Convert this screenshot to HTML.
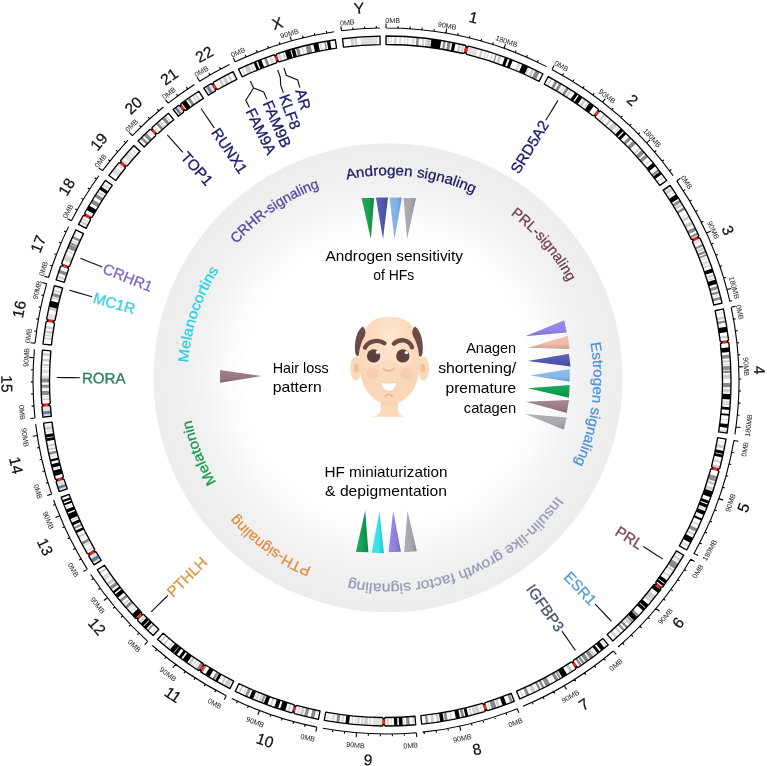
<!DOCTYPE html>
<html lang="en"><head><meta charset="utf-8"><title>Circos: hair loss pathways</title>
<style>html,body{margin:0;padding:0;background:#fff}svg{display:block;will-change:transform}</style></head><body>
<svg width="767" height="766" viewBox="0 0 767 766">
<rect width="767" height="766" fill="#fff"/>
<defs><radialGradient id="dg" cx="388.0" cy="377.7" r="234.5" gradientUnits="userSpaceOnUse"><stop offset="0" stop-color="#fff"/><stop offset="0.6" stop-color="#fff"/><stop offset="0.68" stop-color="#fbfbfb"/><stop offset="0.78" stop-color="#f4f4f4"/><stop offset="0.88" stop-color="#efefef"/><stop offset="1" stop-color="#ededed"/></radialGradient></defs>
<circle cx="388.0" cy="377.7" r="234.5" fill="url(#dg)"/>
<g id="ideograms">
<clipPath id="idclip"><path d="M386 36A345 345 0 0 1 465.28 45.23L466.69 47.21L468.85 46.1A345 345 0 0 1 542.92 73.75L539.05 81.32A336.5 336.5 0 0 0 466.81 54.35L465.44 52.37L463.32 53.5A336.5 336.5 0 0 0 386 44.5ZM548.26 76.54A345 345 0 0 1 598.21 108.99L598.46 111.21L600.68 110.93A345 345 0 0 1 666.7 180.43L659.79 185.37A336.5 336.5 0 0 0 595.39 117.58L595.18 115.37L592.98 115.69A336.5 336.5 0 0 0 544.26 84.04ZM670.16 185.36A345 345 0 0 1 698.83 235.52L698.03 237.61L700.14 238.37A345 345 0 0 1 722.08 303.07L713.8 304.99A336.5 336.5 0 0 0 692.4 241.88L693.21 239.82L691.12 239.1A336.5 336.5 0 0 0 663.16 190.18ZM723.39 308.94A345 345 0 0 1 728.54 339.91L727.14 341.65L728.9 343.03A345 345 0 0 1 727.04 433.14L718.63 431.86A336.5 336.5 0 0 0 720.46 343.96L721.87 342.26L720.11 340.93A336.5 336.5 0 0 0 715.08 310.72ZM726.07 439.09A345 345 0 0 1 719.73 468.47L717.78 469.57L718.92 471.5A345 345 0 0 1 686.78 549.99L679.37 545.82A336.5 336.5 0 0 0 710.72 469.27L712.66 468.2L711.51 466.31A336.5 336.5 0 0 0 717.7 437.66ZM683.78 555.21A345 345 0 0 1 662.65 587.13L660.43 587.42L660.76 589.64A345 345 0 0 1 612.79 640.98L607.2 634.58A336.5 336.5 0 0 0 654 584.5L656.2 584.24L655.83 582.05A336.5 336.5 0 0 0 676.45 550.92ZM608.22 644.9A345 345 0 0 1 578.24 667.48L576.05 667.02L575.63 669.21A345 345 0 0 1 519.86 698.97L516.56 691.14A336.5 336.5 0 0 0 570.95 662.11L573.12 662.6L573.5 660.42A336.5 336.5 0 0 0 602.74 638.4ZM514.29 701.26A345 345 0 0 1 487.68 710.68L485.71 709.6L484.68 711.59A345 345 0 0 1 421.7 724.15L420.82 715.69A336.5 336.5 0 0 0 482.25 703.44L484.17 704.53L485.17 702.55A336.5 336.5 0 0 0 511.13 693.37ZM415.7 724.72A345 345 0 0 1 385.29 726L383.74 724.39L382.17 725.98A345 345 0 0 1 324.26 720.43L325.78 712.07A336.5 336.5 0 0 0 382.27 717.48L383.78 719.09L385.3 717.5A336.5 336.5 0 0 0 414.97 716.25ZM318.39 719.31A345 345 0 0 1 294.56 713.66L293.49 711.71L291.56 712.82A345 345 0 0 1 235.26 691.32L238.97 683.68A336.5 336.5 0 0 0 293.89 704.65L294.92 706.6L296.82 705.47A336.5 336.5 0 0 0 320.05 710.97ZM229.89 688.66A345 345 0 0 1 200.98 672.19L200.53 670L198.35 670.5A345 345 0 0 1 157.54 639.52L163.17 633.15A336.5 336.5 0 0 0 202.97 663.37L203.39 665.54L205.53 665.01A336.5 336.5 0 0 0 233.74 681.08ZM153.09 635.51A345 345 0 0 1 137.62 620.44L137.7 618.22L135.48 618.2A345 345 0 0 1 97.27 569.84L104.38 565.19A336.5 336.5 0 0 0 141.65 612.36L141.53 614.55L143.74 614.54A336.5 336.5 0 0 0 158.83 629.24ZM94.06 564.84A345 345 0 0 1 88.86 556.31L89.45 554.15L87.27 553.59A345 345 0 0 1 61.17 497.25L69.18 494.38A336.5 336.5 0 0 0 94.63 549.34L94.02 551.47L96.18 551.99A336.5 336.5 0 0 0 101.25 560.31ZM59.19 491.55A345 345 0 0 1 56.14 482.07L57.21 480.1L55.23 479.06A345 345 0 0 1 43.58 423.12L52.02 422.08A336.5 336.5 0 0 0 63.38 476.64L62.28 478.57L64.26 479.58A336.5 336.5 0 0 0 67.24 488.82ZM42.9 417.12A345 345 0 0 1 41.96 406.78L43.45 405.1L41.74 403.64A345 345 0 0 1 42.39 350.07L50.86 350.83A336.5 336.5 0 0 0 50.23 403.08L48.73 404.73L50.44 406.14A336.5 336.5 0 0 0 51.35 416.23ZM42.98 344.06A345 345 0 0 1 46.11 321.86L47.96 320.58L46.67 318.73A345 345 0 0 1 54.43 285.67L62.6 288.02A336.5 336.5 0 0 0 55.03 320.27L53.17 321.51L54.48 323.32A336.5 336.5 0 0 0 51.43 344.97ZM56.17 279.82A345 345 0 0 1 60.64 266.25L62.68 265.29L61.71 263.26A345 345 0 0 1 75.86 229.88L83.5 233.61A336.5 336.5 0 0 0 69.7 266.16L67.67 267.08L68.66 269.08A336.5 336.5 0 0 0 64.3 282.32ZM78.58 224.43A345 345 0 0 1 83.14 215.76L85.31 215.14L84.68 212.98A345 345 0 0 1 105.34 180.37L112.25 185.31A336.5 336.5 0 0 0 92.1 217.12L89.95 217.7L90.61 219.83A336.5 336.5 0 0 0 86.15 228.28ZM108.92 175.45A345 345 0 0 1 118.69 162.9L120.93 162.69L120.7 160.45A345 345 0 0 1 133.88 145.5L140.09 151.3A336.5 336.5 0 0 0 127.24 165.88L125.02 166.06L125.27 168.27A336.5 336.5 0 0 0 115.74 180.51ZM138.07 141.09A345 345 0 0 1 149.8 129.54L152.03 129.64L152.09 127.4A345 345 0 0 1 168.45 113.24L173.81 119.84A336.5 336.5 0 0 0 157.86 133.65L155.64 133.52L155.62 135.73A336.5 336.5 0 0 0 144.18 147ZM173.15 109.48A345 345 0 0 1 178.44 105.42L180.65 105.76L180.95 103.55A345 345 0 0 1 198.74 91.24L203.36 98.38A336.5 336.5 0 0 0 186 110.38L183.82 110.01L183.55 112.21A336.5 336.5 0 0 0 178.4 116.17ZM203.83 88.02A345 345 0 0 1 210.9 83.74L213.06 84.33L213.61 82.16A345 345 0 0 1 233.12 71.72L236.88 79.34A336.5 336.5 0 0 0 217.86 89.52L215.73 88.91L215.21 91.06A336.5 336.5 0 0 0 208.32 95.24ZM238.54 69.1A345 345 0 0 1 273.72 54.78L275.72 55.79L276.69 53.77A345 345 0 0 1 335.32 39.74L336.57 48.15A336.5 336.5 0 0 0 279.38 61.84L277.42 60.81L276.49 62.82A336.5 336.5 0 0 0 242.17 76.79ZM342.48 38.76A345 345 0 0 1 379.98 36.05L380.13 44.55A336.5 336.5 0 0 0 343.55 47.19Z"/></clipPath>
<path d="M386 36A345 345 0 0 1 465.28 45.23L466.69 47.21L468.85 46.1A345 345 0 0 1 542.92 73.75L539.05 81.32A336.5 336.5 0 0 0 466.81 54.35L465.44 52.37L463.32 53.5A336.5 336.5 0 0 0 386 44.5ZM548.26 76.54A345 345 0 0 1 598.21 108.99L598.46 111.21L600.68 110.93A345 345 0 0 1 666.7 180.43L659.79 185.37A336.5 336.5 0 0 0 595.39 117.58L595.18 115.37L592.98 115.69A336.5 336.5 0 0 0 544.26 84.04ZM670.16 185.36A345 345 0 0 1 698.83 235.52L698.03 237.61L700.14 238.37A345 345 0 0 1 722.08 303.07L713.8 304.99A336.5 336.5 0 0 0 692.4 241.88L693.21 239.82L691.12 239.1A336.5 336.5 0 0 0 663.16 190.18ZM723.39 308.94A345 345 0 0 1 728.54 339.91L727.14 341.65L728.9 343.03A345 345 0 0 1 727.04 433.14L718.63 431.86A336.5 336.5 0 0 0 720.46 343.96L721.87 342.26L720.11 340.93A336.5 336.5 0 0 0 715.08 310.72ZM726.07 439.09A345 345 0 0 1 719.73 468.47L717.78 469.57L718.92 471.5A345 345 0 0 1 686.78 549.99L679.37 545.82A336.5 336.5 0 0 0 710.72 469.27L712.66 468.2L711.51 466.31A336.5 336.5 0 0 0 717.7 437.66ZM683.78 555.21A345 345 0 0 1 662.65 587.13L660.43 587.42L660.76 589.64A345 345 0 0 1 612.79 640.98L607.2 634.58A336.5 336.5 0 0 0 654 584.5L656.2 584.24L655.83 582.05A336.5 336.5 0 0 0 676.45 550.92ZM608.22 644.9A345 345 0 0 1 578.24 667.48L576.05 667.02L575.63 669.21A345 345 0 0 1 519.86 698.97L516.56 691.14A336.5 336.5 0 0 0 570.95 662.11L573.12 662.6L573.5 660.42A336.5 336.5 0 0 0 602.74 638.4ZM514.29 701.26A345 345 0 0 1 487.68 710.68L485.71 709.6L484.68 711.59A345 345 0 0 1 421.7 724.15L420.82 715.69A336.5 336.5 0 0 0 482.25 703.44L484.17 704.53L485.17 702.55A336.5 336.5 0 0 0 511.13 693.37ZM415.7 724.72A345 345 0 0 1 385.29 726L383.74 724.39L382.17 725.98A345 345 0 0 1 324.26 720.43L325.78 712.07A336.5 336.5 0 0 0 382.27 717.48L383.78 719.09L385.3 717.5A336.5 336.5 0 0 0 414.97 716.25ZM318.39 719.31A345 345 0 0 1 294.56 713.66L293.49 711.71L291.56 712.82A345 345 0 0 1 235.26 691.32L238.97 683.68A336.5 336.5 0 0 0 293.89 704.65L294.92 706.6L296.82 705.47A336.5 336.5 0 0 0 320.05 710.97ZM229.89 688.66A345 345 0 0 1 200.98 672.19L200.53 670L198.35 670.5A345 345 0 0 1 157.54 639.52L163.17 633.15A336.5 336.5 0 0 0 202.97 663.37L203.39 665.54L205.53 665.01A336.5 336.5 0 0 0 233.74 681.08ZM153.09 635.51A345 345 0 0 1 137.62 620.44L137.7 618.22L135.48 618.2A345 345 0 0 1 97.27 569.84L104.38 565.19A336.5 336.5 0 0 0 141.65 612.36L141.53 614.55L143.74 614.54A336.5 336.5 0 0 0 158.83 629.24ZM94.06 564.84A345 345 0 0 1 88.86 556.31L89.45 554.15L87.27 553.59A345 345 0 0 1 61.17 497.25L69.18 494.38A336.5 336.5 0 0 0 94.63 549.34L94.02 551.47L96.18 551.99A336.5 336.5 0 0 0 101.25 560.31ZM59.19 491.55A345 345 0 0 1 56.14 482.07L57.21 480.1L55.23 479.06A345 345 0 0 1 43.58 423.12L52.02 422.08A336.5 336.5 0 0 0 63.38 476.64L62.28 478.57L64.26 479.58A336.5 336.5 0 0 0 67.24 488.82ZM42.9 417.12A345 345 0 0 1 41.96 406.78L43.45 405.1L41.74 403.64A345 345 0 0 1 42.39 350.07L50.86 350.83A336.5 336.5 0 0 0 50.23 403.08L48.73 404.73L50.44 406.14A336.5 336.5 0 0 0 51.35 416.23ZM42.98 344.06A345 345 0 0 1 46.11 321.86L47.96 320.58L46.67 318.73A345 345 0 0 1 54.43 285.67L62.6 288.02A336.5 336.5 0 0 0 55.03 320.27L53.17 321.51L54.48 323.32A336.5 336.5 0 0 0 51.43 344.97ZM56.17 279.82A345 345 0 0 1 60.64 266.25L62.68 265.29L61.71 263.26A345 345 0 0 1 75.86 229.88L83.5 233.61A336.5 336.5 0 0 0 69.7 266.16L67.67 267.08L68.66 269.08A336.5 336.5 0 0 0 64.3 282.32ZM78.58 224.43A345 345 0 0 1 83.14 215.76L85.31 215.14L84.68 212.98A345 345 0 0 1 105.34 180.37L112.25 185.31A336.5 336.5 0 0 0 92.1 217.12L89.95 217.7L90.61 219.83A336.5 336.5 0 0 0 86.15 228.28ZM108.92 175.45A345 345 0 0 1 118.69 162.9L120.93 162.69L120.7 160.45A345 345 0 0 1 133.88 145.5L140.09 151.3A336.5 336.5 0 0 0 127.24 165.88L125.02 166.06L125.27 168.27A336.5 336.5 0 0 0 115.74 180.51ZM138.07 141.09A345 345 0 0 1 149.8 129.54L152.03 129.64L152.09 127.4A345 345 0 0 1 168.45 113.24L173.81 119.84A336.5 336.5 0 0 0 157.86 133.65L155.64 133.52L155.62 135.73A336.5 336.5 0 0 0 144.18 147ZM173.15 109.48A345 345 0 0 1 178.44 105.42L180.65 105.76L180.95 103.55A345 345 0 0 1 198.74 91.24L203.36 98.38A336.5 336.5 0 0 0 186 110.38L183.82 110.01L183.55 112.21A336.5 336.5 0 0 0 178.4 116.17ZM203.83 88.02A345 345 0 0 1 210.9 83.74L213.06 84.33L213.61 82.16A345 345 0 0 1 233.12 71.72L236.88 79.34A336.5 336.5 0 0 0 217.86 89.52L215.73 88.91L215.21 91.06A336.5 336.5 0 0 0 208.32 95.24ZM238.54 69.1A345 345 0 0 1 273.72 54.78L275.72 55.79L276.69 53.77A345 345 0 0 1 335.32 39.74L336.57 48.15A336.5 336.5 0 0 0 279.38 61.84L277.42 60.81L276.49 62.82A336.5 336.5 0 0 0 242.17 76.79ZM342.48 38.76A345 345 0 0 1 379.98 36.05L380.13 44.55A336.5 336.5 0 0 0 343.55 47.19Z" fill="#fff"/>
<g clip-path="url(#idclip)">
<path d="M387.5 36A345 345 0 0 1 389.53 36.02L389.44 44.52A336.5 336.5 0 0 0 387.47 44.5ZM390.71 36.03A345 345 0 0 1 392.01 36.05L391.86 44.55A336.5 336.5 0 0 0 390.59 44.53ZM399.33 36.26A345 345 0 0 1 401.62 36.35L401.23 44.84A336.5 336.5 0 0 0 399 44.75ZM404.29 36.49A345 345 0 0 1 405.73 36.56L405.24 45.05A336.5 336.5 0 0 0 403.84 44.97ZM407.16 36.65A345 345 0 0 1 408.6 36.74L408.04 45.22A336.5 336.5 0 0 0 406.64 45.13ZM412.18 37A345 345 0 0 1 414.79 37.2L414.08 45.67A336.5 336.5 0 0 0 411.54 45.47ZM517.97 62.24A345 345 0 0 1 520.56 63.33L517.25 71.15A336.5 336.5 0 0 0 514.72 70.09ZM528.41 66.76A345 345 0 0 1 529.83 67.41L526.29 75.14A336.5 336.5 0 0 0 524.9 74.5ZM564.12 85.54A345 345 0 0 1 565.29 86.25L560.87 93.51A336.5 336.5 0 0 0 559.73 92.82ZM606.48 115.65A345 345 0 0 1 607.84 116.78L602.37 123.29A336.5 336.5 0 0 0 601.05 122.18ZM618.8 126.38A345 345 0 0 1 620.05 127.53L614.28 133.78A336.5 336.5 0 0 0 613.06 132.66ZM627.06 134.19A345 345 0 0 1 627.34 134.47L621.4 140.54A336.5 336.5 0 0 0 621.12 140.27ZM674.46 191.76A345 345 0 0 1 675 192.58L667.88 197.22A336.5 336.5 0 0 0 667.36 196.42ZM687.58 213.45A345 345 0 0 1 688.12 214.42L680.68 218.53A336.5 336.5 0 0 0 680.15 217.58ZM701.92 242.37A345 345 0 0 1 702.16 242.91L694.37 246.31A336.5 336.5 0 0 0 694.14 245.78ZM707.85 256.75A345 345 0 0 1 708.32 257.97L700.38 261A336.5 336.5 0 0 0 699.92 259.81ZM709.1 260.05A345 345 0 0 1 710.12 262.81L702.14 265.72A336.5 336.5 0 0 0 701.14 263.03ZM710.57 264.04A345 345 0 0 1 711.23 265.88L703.21 268.72A336.5 336.5 0 0 0 702.57 266.92ZM719.98 294.5A345 345 0 0 1 720.22 295.45L711.99 297.56A336.5 336.5 0 0 0 711.75 296.63ZM723.99 311.82A345 345 0 0 1 724.19 312.78L715.86 314.46A336.5 336.5 0 0 0 715.67 313.53ZM730.55 363.38A345 345 0 0 1 730.64 365.21L722.15 365.6A336.5 336.5 0 0 0 722.06 363.82ZM730.43 400.88A345 345 0 0 1 730.21 404.34L721.73 403.76A336.5 336.5 0 0 0 721.94 400.39ZM728.84 419.51A345 345 0 0 1 728.71 420.67L720.27 419.7A336.5 336.5 0 0 0 720.4 418.56ZM728.37 423.53A345 345 0 0 1 728.27 424.31L719.84 423.24A336.5 336.5 0 0 0 719.93 422.48ZM727.43 430.53A345 345 0 0 1 727.04 433.14L718.63 431.86A336.5 336.5 0 0 0 719.01 429.3ZM725.57 441.98A345 345 0 0 1 725.36 443.14L717 441.61A336.5 336.5 0 0 0 717.2 440.48ZM721.66 460.73A345 345 0 0 1 720.95 463.65L712.7 461.61A336.5 336.5 0 0 0 713.39 458.76ZM699.99 523.94A345 345 0 0 1 699.09 525.9L691.38 522.33A336.5 336.5 0 0 0 692.26 520.42ZM689.34 545.35A345 345 0 0 1 688.15 547.53L680.7 543.43A336.5 336.5 0 0 0 681.86 541.3ZM683.02 556.51A345 345 0 0 1 682.39 557.58L675.09 553.22A336.5 336.5 0 0 0 675.7 552.18ZM679.88 561.71A345 345 0 0 1 679.27 562.71L672.04 558.24A336.5 336.5 0 0 0 672.64 557.26ZM672.65 572.99A345 345 0 0 1 672.14 573.75L665.09 569A336.5 336.5 0 0 0 665.58 568.26ZM671 575.42A345 345 0 0 1 669.55 577.52L662.57 572.68A336.5 336.5 0 0 0 663.98 570.63ZM606.82 646.08A345 345 0 0 1 605.96 646.79L600.54 640.24A336.5 336.5 0 0 0 601.38 639.54ZM537.65 690.88A345 345 0 0 1 536.94 691.23L533.22 683.59A336.5 336.5 0 0 0 533.91 683.25ZM523.76 697.3A345 345 0 0 1 522.26 697.95L518.91 690.14A336.5 336.5 0 0 0 520.37 689.51ZM490.73 709.72A345 345 0 0 1 489.86 709.99L487.3 701.89A336.5 336.5 0 0 0 488.15 701.62ZM452.33 719.56A345 345 0 0 1 450.66 719.89L449.06 711.54A336.5 336.5 0 0 0 450.69 711.22ZM414.27 724.84A345 345 0 0 1 412.71 724.96L412.05 716.49A336.5 336.5 0 0 0 413.57 716.37ZM404.88 725.48A345 345 0 0 1 403.64 725.55L403.21 717.06A336.5 336.5 0 0 0 404.41 717ZM392.01 725.95A345 345 0 0 1 390.64 725.97L390.53 717.47A336.5 336.5 0 0 0 391.87 717.45ZM370.96 725.67A345 345 0 0 1 368.69 725.57L369.11 717.08A336.5 336.5 0 0 0 371.33 717.18ZM356 724.69A345 345 0 0 1 354.65 724.57L355.42 716.11A336.5 336.5 0 0 0 356.74 716.23ZM352.9 724.41A345 345 0 0 1 351.16 724.24L352.02 715.78A336.5 336.5 0 0 0 353.72 715.95ZM343.43 723.36A345 345 0 0 1 341.11 723.07L342.22 714.64A336.5 336.5 0 0 0 344.47 714.93ZM334.11 722.08A345 345 0 0 1 331.22 721.62L332.57 713.23A336.5 336.5 0 0 0 335.39 713.67ZM329.18 721.29A345 345 0 0 1 328.86 721.23L330.26 712.85A336.5 336.5 0 0 0 330.58 712.9ZM327.64 721.03A345 345 0 0 1 326.68 720.86L328.14 712.49A336.5 336.5 0 0 0 329.08 712.65ZM316.48 718.92A345 345 0 0 1 315.97 718.82L317.7 710.49A336.5 336.5 0 0 0 318.19 710.6ZM298.6 714.75A345 345 0 0 1 296.66 714.23L298.86 706.02A336.5 336.5 0 0 0 300.76 706.52ZM289.35 712.19A345 345 0 0 1 286.99 711.49L289.43 703.34A336.5 336.5 0 0 0 291.73 704.03ZM254.52 699.96A345 345 0 0 1 253.38 699.49L256.65 691.64A336.5 336.5 0 0 0 257.76 692.1ZM195.28 668.49A345 345 0 0 1 194.36 667.88L199.08 660.81A336.5 336.5 0 0 0 199.98 661.41ZM193.01 666.97A345 345 0 0 1 191.67 666.06L196.46 659.04A336.5 336.5 0 0 0 197.77 659.93ZM151.51 634.06A345 345 0 0 1 150.51 633.13L156.31 626.92A336.5 336.5 0 0 0 157.29 627.83ZM130.68 613.02A345 345 0 0 1 129.64 611.87L135.95 606.19A336.5 336.5 0 0 0 136.97 607.31ZM128.18 610.24A345 345 0 0 1 127.45 609.42L133.82 603.79A336.5 336.5 0 0 0 134.53 604.59ZM105.33 581.63A345 345 0 0 1 105.11 581.31L112.03 576.38A336.5 336.5 0 0 0 112.25 576.69ZM86.3 551.89A345 345 0 0 1 85.58 550.63L92.99 546.45A336.5 336.5 0 0 0 93.68 547.68ZM84.85 549.32A345 345 0 0 1 84.5 548.69L91.92 544.56A336.5 336.5 0 0 0 92.27 545.17ZM79.45 539.28A345 345 0 0 1 79.27 538.93L86.83 535.04A336.5 336.5 0 0 0 87 535.38ZM65.1 507.67A345 345 0 0 1 64.83 507L72.75 503.9A336.5 336.5 0 0 0 73 504.55ZM49.58 457.44A345 345 0 0 1 49.37 456.55L57.67 454.69A336.5 336.5 0 0 0 57.86 455.56ZM44.96 433.12A345 345 0 0 1 44.69 431.3L53.1 430.06A336.5 336.5 0 0 0 53.36 431.83ZM41.1 389.14A345 345 0 0 1 41.08 388.62L49.58 388.43A336.5 336.5 0 0 0 49.59 388.94ZM41.01 378.33A345 345 0 0 1 41.04 375.45L49.54 375.59A336.5 336.5 0 0 0 49.51 378.4ZM41.09 373.16A345 345 0 0 1 41.09 373.09L49.59 373.29A336.5 336.5 0 0 0 49.59 373.35ZM41.09 372.96A345 345 0 0 1 41.19 369.56L49.69 369.84A336.5 336.5 0 0 0 49.59 373.16ZM41.25 367.92A345 345 0 0 1 41.28 367L49.78 367.35A336.5 336.5 0 0 0 49.74 368.24ZM53.85 287.74A345 345 0 0 1 54.13 286.72L62.31 289.04A336.5 336.5 0 0 0 62.03 290.03ZM64.51 255.82A345 345 0 0 1 65.11 254.28L73.02 257.41A336.5 336.5 0 0 0 72.43 258.91ZM66.1 251.83A345 345 0 0 1 66.72 250.29L74.58 253.51A336.5 336.5 0 0 0 73.98 255.01ZM74.03 233.7A345 345 0 0 1 74.17 233.4L81.85 237.04A336.5 336.5 0 0 0 81.71 237.33ZM81.17 219.43A345 345 0 0 1 81.92 218.03L89.41 222.05A336.5 336.5 0 0 0 88.68 223.42ZM101.77 185.45A345 345 0 0 1 103.43 183.06L110.39 187.94A336.5 336.5 0 0 0 108.78 190.26ZM111.66 171.81A345 345 0 0 1 114.48 168.15L121.17 173.4A336.5 336.5 0 0 0 118.42 176.96ZM114.52 168.1A345 345 0 0 1 115.46 166.91L122.13 172.18A336.5 336.5 0 0 0 121.21 173.35ZM123.51 157.12A345 345 0 0 1 124.71 155.71L131.15 161.27A336.5 336.5 0 0 0 129.98 162.63ZM124.88 155.52A345 345 0 0 1 126.92 153.18L133.31 158.79A336.5 336.5 0 0 0 131.32 161.07ZM127.71 152.29A345 345 0 0 1 128.94 150.9L135.27 156.57A336.5 336.5 0 0 0 134.07 157.92ZM130.44 149.24A345 345 0 0 1 131.42 148.16L137.69 153.9A336.5 336.5 0 0 0 136.74 154.95ZM132.62 146.85A345 345 0 0 1 133.88 145.5L140.09 151.3A336.5 336.5 0 0 0 138.87 152.62ZM147.99 131.24A345 345 0 0 1 148.47 130.79L154.32 136.96A336.5 336.5 0 0 0 153.86 137.4ZM153.15 126.43A345 345 0 0 1 154.26 125.42L159.97 131.71A336.5 336.5 0 0 0 158.89 132.7ZM158.02 122.06A345 345 0 0 1 160.13 120.21L165.7 126.64A336.5 336.5 0 0 0 163.63 128.44ZM216.31 80.62A345 345 0 0 1 217.05 80.2L221.21 87.61A336.5 336.5 0 0 0 220.49 88.02ZM268.57 56.6A345 345 0 0 1 271.65 55.5L274.47 63.52A336.5 336.5 0 0 0 271.47 64.59ZM319.28 42.51A345 345 0 0 1 321.34 42.11L322.93 50.46A336.5 336.5 0 0 0 320.93 50.85Z" fill="#dcdcdc"/>
<path d="M469.41 46.24A345 345 0 0 1 478.07 48.51L475.8 56.7A336.5 336.5 0 0 0 467.36 54.48ZM700.3 238.73A345 345 0 0 1 701.47 241.35L693.7 244.79A336.5 336.5 0 0 0 692.55 242.23ZM382.63 725.98A345 345 0 0 1 372.77 725.75L373.1 717.25A336.5 336.5 0 0 0 382.71 717.48ZM94.06 564.84A345 345 0 0 1 92.53 562.38L99.76 557.91A336.5 336.5 0 0 0 101.25 560.31ZM90.68 559.35A345 345 0 0 1 88.59 555.86L95.92 551.55A336.5 336.5 0 0 0 97.95 554.96ZM59.19 491.55A345 345 0 0 1 58.42 489.25L66.49 486.58A336.5 336.5 0 0 0 67.24 488.82ZM57.53 486.51A345 345 0 0 1 55.96 481.5L64.09 479.03A336.5 336.5 0 0 0 65.62 483.91ZM42.9 417.12A345 345 0 0 1 42.64 414.58L51.1 413.75A336.5 336.5 0 0 0 51.35 416.23ZM42.35 411.45A345 345 0 0 1 41.97 406.81L50.44 406.18A336.5 336.5 0 0 0 50.81 410.7ZM46.62 318.99A345 345 0 0 1 47.66 313.53L56 315.2A336.5 336.5 0 0 0 54.98 320.52ZM116.98 165A345 345 0 0 1 118.81 162.74L125.4 168.12A336.5 336.5 0 0 0 123.61 170.32ZM120.58 160.6A345 345 0 0 1 122.18 158.68L128.68 164.16A336.5 336.5 0 0 0 127.11 166.03ZM173.15 109.48A345 345 0 0 1 174.59 108.36L179.8 115.08A336.5 336.5 0 0 0 178.4 116.17ZM176.67 106.77A345 345 0 0 1 178.8 105.15L183.91 111.94A336.5 336.5 0 0 0 181.82 113.52ZM203.83 88.02A345 345 0 0 1 205.94 86.71L210.38 93.97A336.5 336.5 0 0 0 208.32 95.24ZM208.46 85.19A345 345 0 0 1 210.65 83.89L214.97 91.21A336.5 336.5 0 0 0 212.83 92.48ZM360.31 36.96A345 345 0 0 1 377.51 36.1L377.72 44.6A336.5 336.5 0 0 0 360.94 45.43Z" fill="#e0e0e0"/>
<path d="M394.3 36.1A345 345 0 0 1 396.59 36.16L396.33 44.66A336.5 336.5 0 0 0 394.1 44.6ZM422.6 37.95A345 345 0 0 1 424.48 38.15L423.53 46.6A336.5 336.5 0 0 0 421.7 46.4ZM425.98 38.32A345 345 0 0 1 430.9 38.93L429.8 47.36A336.5 336.5 0 0 0 424.99 46.77ZM458.53 43.71A345 345 0 0 1 461.27 44.31L459.42 52.61A336.5 336.5 0 0 0 456.74 52.02ZM462.36 44.56A345 345 0 0 1 464.14 44.97L462.21 53.24A336.5 336.5 0 0 0 460.47 52.84ZM480.84 49.29A345 345 0 0 1 482.91 49.89L480.52 58.05A336.5 336.5 0 0 0 478.5 57.46ZM485.86 50.77A345 345 0 0 1 486.79 51.05L484.31 59.18A336.5 336.5 0 0 0 483.4 58.9ZM488.42 51.55A345 345 0 0 1 489.29 51.83L486.75 59.94A336.5 336.5 0 0 0 485.9 59.67ZM492.41 52.82A345 345 0 0 1 493.46 53.16L490.81 61.24A336.5 336.5 0 0 0 489.78 60.9ZM498.91 55A345 345 0 0 1 501.56 55.93L498.72 63.94A336.5 336.5 0 0 0 496.13 63.03ZM532.03 68.43A345 345 0 0 1 534.39 69.54L530.74 77.22A336.5 336.5 0 0 0 528.43 76.13ZM550.79 77.9A345 345 0 0 1 552.34 78.75L548.24 86.19A336.5 336.5 0 0 0 546.73 85.37ZM570.07 89.21A345 345 0 0 1 571.83 90.33L567.26 97.49A336.5 336.5 0 0 0 565.53 96.4ZM583.95 98.44A345 345 0 0 1 586.35 100.13L581.41 107.05A336.5 336.5 0 0 0 579.07 105.4ZM587.89 101.24A345 345 0 0 1 588.95 102.01L583.95 108.88A336.5 336.5 0 0 0 582.91 108.13ZM604.06 113.65A345 345 0 0 1 605.73 115.02L600.31 121.57A336.5 336.5 0 0 0 598.69 120.24ZM609.93 118.55A345 345 0 0 1 612.11 120.43L606.54 126.85A336.5 336.5 0 0 0 604.42 125.02ZM613.88 121.98A345 345 0 0 1 617.54 125.24L611.84 131.54A336.5 336.5 0 0 0 608.27 128.36ZM639.85 147.37A345 345 0 0 1 641 148.62L634.72 154.35A336.5 336.5 0 0 0 633.6 153.13ZM650.76 159.8A345 345 0 0 1 651.43 160.6L644.89 166.03A336.5 336.5 0 0 0 644.23 165.25ZM663.79 176.41A345 345 0 0 1 664.45 177.3L657.59 182.32A336.5 336.5 0 0 0 656.94 181.45ZM670.16 185.36A345 345 0 0 1 671.2 186.87L664.17 191.65A336.5 336.5 0 0 0 663.16 190.18ZM671.64 187.51A345 345 0 0 1 673.35 190.07L666.27 194.77A336.5 336.5 0 0 0 664.6 192.28ZM681.53 202.99A345 345 0 0 1 683 205.46L675.68 209.78A336.5 336.5 0 0 0 674.25 207.37ZM685.5 209.75A345 345 0 0 1 685.53 209.81L678.15 214.03A336.5 336.5 0 0 0 678.12 213.97ZM688.78 215.63A345 345 0 0 1 690.09 218.04L682.6 222.06A336.5 336.5 0 0 0 681.32 219.7ZM691.65 220.99A345 345 0 0 1 693.48 224.53L685.9 228.39A336.5 336.5 0 0 0 684.12 224.93ZM703.96 247.11A345 345 0 0 1 704.82 249.16L696.96 252.41A336.5 336.5 0 0 0 696.13 250.41ZM714.04 274.17A345 345 0 0 1 714.63 275.98L706.53 278.57A336.5 336.5 0 0 0 705.96 276.81ZM715.02 277.22A345 345 0 0 1 715.41 278.47L707.3 281A336.5 336.5 0 0 0 706.92 279.78ZM724.86 316.18A345 345 0 0 1 725.33 318.69L716.97 320.22A336.5 336.5 0 0 0 716.51 317.78ZM727.98 335.47A345 345 0 0 1 728.27 337.67L719.84 338.74A336.5 336.5 0 0 0 719.56 336.59ZM730.36 359.99A345 345 0 0 1 730.49 362.28L722 362.74A336.5 336.5 0 0 0 721.88 360.51ZM730.94 374.49A345 345 0 0 1 730.99 378.8L722.49 378.86A336.5 336.5 0 0 0 722.44 374.65ZM730.9 389.32A345 345 0 0 1 730.81 392.59L722.31 392.3A336.5 336.5 0 0 0 722.4 389.12ZM730.21 404.34A345 345 0 0 1 730.13 405.45L721.65 404.85A336.5 336.5 0 0 0 721.73 403.76ZM724.94 445.39A345 345 0 0 1 724.29 448.73L715.95 447.06A336.5 336.5 0 0 0 716.59 443.8ZM720.3 466.25A345 345 0 0 1 719.71 468.53L711.49 466.37A336.5 336.5 0 0 0 712.06 464.15ZM715.72 482.54A345 345 0 0 1 714.76 485.6L706.66 483.02A336.5 336.5 0 0 0 707.59 480.04ZM714.04 487.84A345 345 0 0 1 713.12 490.63L705.06 487.93A336.5 336.5 0 0 0 705.96 485.21ZM706.34 509.1A345 345 0 0 1 705.95 510.07L698.06 506.89A336.5 336.5 0 0 0 698.44 505.94ZM695.37 533.69A345 345 0 0 1 694.5 535.44L686.9 531.64A336.5 336.5 0 0 0 687.75 529.92ZM681.41 559.2A345 345 0 0 1 680.23 561.16L672.98 556.72A336.5 336.5 0 0 0 674.14 554.81ZM674.49 570.21A345 345 0 0 1 673.26 572.06L666.19 567.36A336.5 336.5 0 0 0 667.38 565.55ZM655.75 596.08A345 345 0 0 1 652.46 600.15L645.89 594.75A336.5 336.5 0 0 0 649.1 590.79ZM652.04 600.65A345 345 0 0 1 650.75 602.21L644.22 596.76A336.5 336.5 0 0 0 645.49 595.24ZM631.78 623.11A345 345 0 0 1 629.94 624.97L623.93 618.96A336.5 336.5 0 0 0 625.72 617.15ZM621.81 632.83A345 345 0 0 1 620.37 634.17L614.6 627.93A336.5 336.5 0 0 0 616 626.63ZM617.72 636.6A345 345 0 0 1 616.02 638.13L610.36 631.79A336.5 336.5 0 0 0 612.01 630.3ZM595.22 655.32A345 345 0 0 1 593.91 656.31L588.79 649.53A336.5 336.5 0 0 0 590.06 648.56ZM573.03 670.91A345 345 0 0 1 570.16 672.74L565.62 665.55A336.5 336.5 0 0 0 568.42 663.77ZM552.38 683.23A345 345 0 0 1 551.97 683.45L547.89 676A336.5 336.5 0 0 0 548.28 675.79ZM535.65 691.86A345 345 0 0 1 532.34 693.43L528.73 685.73A336.5 336.5 0 0 0 531.96 684.2ZM500.03 706.61A345 345 0 0 1 497.5 707.49L494.75 699.44A336.5 336.5 0 0 0 497.22 698.59ZM479.97 712.96A345 345 0 0 1 476.13 714.02L473.91 705.81A336.5 336.5 0 0 0 477.65 704.78ZM475.75 714.12A345 345 0 0 1 473.35 714.76L471.2 706.54A336.5 336.5 0 0 0 473.54 705.91ZM472.08 715.09A345 345 0 0 1 470.5 715.49L468.42 707.25A336.5 336.5 0 0 0 469.96 706.86ZM439.32 721.85A345 345 0 0 1 437.19 722.18L435.93 713.78A336.5 336.5 0 0 0 438.01 713.46ZM434.09 722.63A345 345 0 0 1 431.37 723L430.25 714.58A336.5 336.5 0 0 0 432.9 714.22ZM388.94 725.99A345 345 0 0 1 387.24 726L387.21 717.5A336.5 336.5 0 0 0 388.87 717.49ZM367.52 725.5A345 345 0 0 1 364.15 725.31L364.69 716.82A336.5 336.5 0 0 0 367.98 717.02ZM362.92 725.23A345 345 0 0 1 360.98 725.09L361.6 716.61A336.5 336.5 0 0 0 363.49 716.75ZM359.17 724.96A345 345 0 0 1 356.91 724.77L357.63 716.3A336.5 336.5 0 0 0 359.83 716.48ZM302.82 715.82A345 345 0 0 1 299.67 715.02L301.8 706.79A336.5 336.5 0 0 0 304.86 707.57ZM271.57 706.47A345 345 0 0 1 269.86 705.86L272.72 697.86A336.5 336.5 0 0 0 274.39 698.45ZM259.88 702.12A345 345 0 0 1 258.13 701.43L261.28 693.53A336.5 336.5 0 0 0 262.99 694.21ZM256.74 700.87A345 345 0 0 1 255.18 700.23L258.4 692.37A336.5 336.5 0 0 0 259.93 692.99ZM243.37 695.14A345 345 0 0 1 242.54 694.76L246.08 687.03A336.5 336.5 0 0 0 246.88 687.4ZM239.95 693.56A345 345 0 0 1 238.13 692.7L241.77 685.02A336.5 336.5 0 0 0 243.55 685.86ZM228.27 687.84A345 345 0 0 1 223.73 685.45L227.73 677.95A336.5 336.5 0 0 0 232.16 680.28ZM222.58 684.84A345 345 0 0 1 220.58 683.76L224.66 676.3A336.5 336.5 0 0 0 226.61 677.36ZM190.6 665.33A345 345 0 0 1 188.04 663.55L192.91 656.59A336.5 336.5 0 0 0 195.41 658.32ZM168.69 648.96A345 345 0 0 1 167.69 648.14L173.06 641.56A336.5 336.5 0 0 0 174.05 642.36ZM164.33 645.36A345 345 0 0 1 162.99 644.23L168.49 637.75A336.5 336.5 0 0 0 169.79 638.85ZM161.06 642.59A345 345 0 0 1 159.59 641.31L165.17 634.9A336.5 336.5 0 0 0 166.61 636.14ZM140.11 623A345 345 0 0 1 138.81 621.67L144.9 615.74A336.5 336.5 0 0 0 146.17 617.04ZM123.85 605.28A345 345 0 0 1 122.76 604.01L129.25 598.51A336.5 336.5 0 0 0 130.31 599.76ZM108.33 585.75A345 345 0 0 1 106.35 583.04L113.24 578.06A336.5 336.5 0 0 0 115.17 580.71ZM104.36 580.26A345 345 0 0 1 103.43 578.94L110.4 574.07A336.5 336.5 0 0 0 111.3 575.35ZM102.95 578.26A345 345 0 0 1 102 576.88L109 572.05A336.5 336.5 0 0 0 109.93 573.4ZM100.11 574.11A345 345 0 0 1 98.89 572.29L105.96 567.57A336.5 336.5 0 0 0 107.15 569.35ZM83.45 546.8A345 345 0 0 1 82.89 545.76L90.35 541.7A336.5 336.5 0 0 0 90.9 542.71ZM78.82 538.05A345 345 0 0 1 77.75 535.95L85.35 532.13A336.5 336.5 0 0 0 86.39 534.18ZM70.88 521.44A345 345 0 0 1 70.4 520.37L78.18 516.93A336.5 336.5 0 0 0 78.64 517.98ZM52.52 469.4A345 345 0 0 1 52.3 468.58L60.52 466.42A336.5 336.5 0 0 0 60.74 467.23ZM48.09 450.59A345 345 0 0 1 47.69 448.6L56.02 446.94A336.5 336.5 0 0 0 56.42 448.88ZM47.4 447.12A345 345 0 0 1 46.95 444.81L55.31 443.23A336.5 336.5 0 0 0 55.74 445.49ZM44.54 430.26A345 345 0 0 1 44.07 426.95L52.5 425.82A336.5 336.5 0 0 0 52.95 429.05ZM43.92 425.79A345 345 0 0 1 43.85 425.27L52.28 424.17A336.5 336.5 0 0 0 52.35 424.68ZM41.54 400.34A345 345 0 0 1 41.46 398.77L49.95 398.33A336.5 336.5 0 0 0 50.03 399.86ZM41.39 397.33A345 345 0 0 1 41.36 396.74L49.85 396.35A336.5 336.5 0 0 0 49.88 396.93ZM41.33 365.89A345 345 0 0 1 41.44 363.66L49.93 364.09A336.5 336.5 0 0 0 49.82 366.26ZM41.56 361.37A345 345 0 0 1 41.71 358.82L50.2 359.37A336.5 336.5 0 0 0 50.04 361.86ZM41.95 355.43A345 345 0 0 1 42.16 352.68L50.64 353.38A336.5 336.5 0 0 0 50.43 356.06ZM43.58 338.92A345 345 0 0 1 43.79 337.23L52.22 338.31A336.5 336.5 0 0 0 52.01 339.96ZM43.96 335.87A345 345 0 0 1 44.16 334.44L52.58 335.58A336.5 336.5 0 0 0 52.39 336.98ZM44.34 333.14A345 345 0 0 1 44.75 330.29L53.16 331.54A336.5 336.5 0 0 0 52.75 334.32ZM45.04 328.34A345 345 0 0 1 45.44 325.82L53.83 327.18A336.5 336.5 0 0 0 53.44 329.64ZM48.4 309.9A345 345 0 0 1 48.97 307.25L57.28 309.07A336.5 336.5 0 0 0 56.72 311.66ZM51.09 298.16A345 345 0 0 1 51.43 296.82L59.67 298.89A336.5 336.5 0 0 0 59.34 300.21ZM52.9 291.18A345 345 0 0 1 53.33 289.58L61.53 291.84A336.5 336.5 0 0 0 61.1 293.39ZM56.82 277.74A345 345 0 0 1 57.46 275.72L65.55 278.31A336.5 336.5 0 0 0 64.93 280.28ZM62.95 259.9A345 345 0 0 1 64.44 256.01L72.36 259.09A336.5 336.5 0 0 0 70.91 262.89ZM70.66 241.04A345 345 0 0 1 71.1 240.07L78.85 243.55A336.5 336.5 0 0 0 78.43 244.49ZM79.45 222.72A345 345 0 0 1 80.74 220.25L88.26 224.21A336.5 336.5 0 0 0 87 226.62ZM97.18 192.3A345 345 0 0 1 98.19 190.76L105.29 195.44A336.5 336.5 0 0 0 104.3 196.95ZM165.16 115.94A345 345 0 0 1 166.12 115.15L171.54 121.7A336.5 336.5 0 0 0 170.61 122.47ZM192.04 95.68A345 345 0 0 1 193.12 94.95L197.88 102A336.5 336.5 0 0 0 196.82 102.71ZM194.15 94.26A345 345 0 0 1 195.73 93.21L200.42 100.3A336.5 336.5 0 0 0 198.88 101.32ZM218.42 79.44A345 345 0 0 1 220.53 78.27L224.61 85.73A336.5 336.5 0 0 0 222.55 86.87ZM222.03 77.46A345 345 0 0 1 225.14 75.8L229.1 83.32A336.5 336.5 0 0 0 226.07 84.94ZM227.11 74.77A345 345 0 0 1 228.97 73.81L232.84 81.38A336.5 336.5 0 0 0 231.03 82.31ZM231.42 72.57A345 345 0 0 1 232 72.28L235.8 79.88A336.5 336.5 0 0 0 235.23 80.17ZM241.08 67.91A345 345 0 0 1 242.09 67.45L245.64 75.17A336.5 336.5 0 0 0 244.65 75.63ZM244.17 66.5A345 345 0 0 1 248.72 64.49L252.1 72.29A336.5 336.5 0 0 0 247.67 74.25ZM250.04 63.92A345 345 0 0 1 251.6 63.26L254.91 71.08A336.5 336.5 0 0 0 253.39 71.73ZM277.72 53.43A345 345 0 0 1 279.7 52.78L282.32 60.87A336.5 336.5 0 0 0 280.38 61.5ZM282.19 51.99A345 345 0 0 1 283.5 51.58L286.03 59.69A336.5 336.5 0 0 0 284.75 60.09ZM301.56 46.49A345 345 0 0 1 302.25 46.32L304.32 54.56A336.5 336.5 0 0 0 303.64 54.74ZM350.34 37.85A345 345 0 0 1 353.18 37.57L353.98 46.03A336.5 336.5 0 0 0 351.22 46.3ZM354.18 37.47A345 345 0 0 1 356.77 37.24L357.49 45.71A336.5 336.5 0 0 0 354.97 45.93Z" fill="#cdcdcd"/>
<path d="M416.55 37.36A345 345 0 0 1 419.09 37.59L418.27 46.05A336.5 336.5 0 0 0 415.8 45.82ZM443.51 40.83A345 345 0 0 1 445.83 41.23L444.35 49.6A336.5 336.5 0 0 0 442.09 49.21ZM447.56 41.54A345 345 0 0 1 450.78 42.14L449.18 50.48A336.5 336.5 0 0 0 446.05 49.9ZM495.76 53.92A345 345 0 0 1 497 54.34L494.26 62.39A336.5 336.5 0 0 0 493.05 61.98ZM535.51 70.08A345 345 0 0 1 539.68 72.12L535.89 79.73A336.5 336.5 0 0 0 531.83 77.74ZM555.25 80.37A345 345 0 0 1 557.81 81.82L553.58 89.19A336.5 336.5 0 0 0 551.08 87.78ZM559.22 82.64A345 345 0 0 1 561.93 84.23L557.59 91.54A336.5 336.5 0 0 0 554.96 89.99ZM566.46 86.96A345 345 0 0 1 568.96 88.51L564.45 95.72A336.5 336.5 0 0 0 562.02 94.21ZM629.39 136.49A345 345 0 0 1 631.65 138.76L625.6 144.73A336.5 336.5 0 0 0 623.39 142.51ZM633.43 140.58A345 345 0 0 1 636.15 143.41L629.99 149.26A336.5 336.5 0 0 0 627.34 146.5ZM642.06 149.79A345 345 0 0 1 644.84 152.91L638.46 158.53A336.5 336.5 0 0 0 635.75 155.48ZM645.92 154.14A345 345 0 0 1 648.27 156.86L641.81 162.38A336.5 336.5 0 0 0 639.51 159.72ZM658.22 169.06A345 345 0 0 1 659.7 170.97L652.96 176.15A336.5 336.5 0 0 0 651.52 174.28ZM679.59 199.81A345 345 0 0 1 681.12 202.32L673.85 206.72A336.5 336.5 0 0 0 672.35 204.27ZM683.96 207.09A345 345 0 0 1 685.37 209.52L677.99 213.75A336.5 336.5 0 0 0 676.62 211.38ZM694.77 227.1A345 345 0 0 1 696.39 230.38L688.74 234.09A336.5 336.5 0 0 0 687.16 230.89ZM697.43 232.56A345 345 0 0 1 698.47 234.75L690.77 238.35A336.5 336.5 0 0 0 689.76 236.22ZM702.65 244.05A345 345 0 0 1 703.53 246.09L695.7 249.41A336.5 336.5 0 0 0 694.85 247.42ZM705.36 250.49A345 345 0 0 1 706.29 252.79L698.4 255.95A336.5 336.5 0 0 0 697.49 253.71ZM706.71 253.83A345 345 0 0 1 707.4 255.59L699.48 258.68A336.5 336.5 0 0 0 698.8 256.96ZM717.64 285.92A345 345 0 0 1 718.49 288.94L710.3 291.21A336.5 336.5 0 0 0 709.47 288.27ZM719.06 291.02A345 345 0 0 1 719.68 293.36L711.46 295.52A336.5 336.5 0 0 0 710.85 293.24ZM720.53 296.65A345 345 0 0 1 721.22 299.44L712.96 301.45A336.5 336.5 0 0 0 712.29 298.73ZM725.63 320.36A345 345 0 0 1 726.02 322.61L717.65 324.05A336.5 336.5 0 0 0 717.26 321.85ZM729.98 354.51A345 345 0 0 1 730.25 358.3L721.77 358.85A336.5 336.5 0 0 0 721.51 355.17ZM730.67 365.93A345 345 0 0 1 730.81 369.65L722.32 369.93A336.5 336.5 0 0 0 722.18 366.3ZM730.84 370.57A345 345 0 0 1 730.91 372.99L722.41 373.18A336.5 336.5 0 0 0 722.35 370.83ZM730.99 382.98A345 345 0 0 1 730.94 387.36L722.44 387.21A336.5 336.5 0 0 0 722.49 382.94ZM717.49 476.59A345 345 0 0 1 716.76 479.1L708.61 476.69A336.5 336.5 0 0 0 709.32 474.24ZM716.7 479.29A345 345 0 0 1 716.04 481.48L707.91 479.01A336.5 336.5 0 0 0 708.55 476.87ZM697.71 528.86A345 345 0 0 1 696.21 531.98L688.57 528.26A336.5 336.5 0 0 0 690.03 525.22ZM678.64 563.71A345 345 0 0 1 675.13 569.22L668.01 564.59A336.5 336.5 0 0 0 671.43 559.21ZM639.27 615.27A345 345 0 0 1 637.62 617.04L631.42 611.22A336.5 336.5 0 0 0 633.03 609.49ZM633.65 621.2A345 345 0 0 1 632.19 622.69L626.12 616.74A336.5 336.5 0 0 0 627.55 615.28ZM628.17 626.72A345 345 0 0 1 626.4 628.46L620.47 622.36A336.5 336.5 0 0 0 622.21 620.66ZM625.08 629.73A345 345 0 0 1 623.47 631.26L617.62 625.1A336.5 336.5 0 0 0 619.19 623.6ZM593.5 656.63A345 345 0 0 1 590.25 659.04L585.21 652.19A336.5 336.5 0 0 0 588.39 649.84ZM589.09 659.89A345 345 0 0 1 585.85 662.22L580.92 655.29A336.5 336.5 0 0 0 584.08 653.02ZM584.73 663.01A345 345 0 0 1 582.8 664.36L577.95 657.38A336.5 336.5 0 0 0 579.83 656.07ZM581.99 664.92A345 345 0 0 1 580.11 666.21L575.33 659.19A336.5 336.5 0 0 0 577.17 657.93ZM561.23 678.18A345 345 0 0 1 559.6 679.14L555.32 671.8A336.5 336.5 0 0 0 556.92 670.86ZM558.64 679.7A345 345 0 0 1 555.69 681.39L551.51 673.98A336.5 336.5 0 0 0 554.38 672.34ZM550.31 684.36A345 345 0 0 1 546.16 686.57L542.21 679.04A336.5 336.5 0 0 0 546.26 676.89ZM544.53 687.42A345 345 0 0 1 542.38 688.52L538.53 680.94A336.5 336.5 0 0 0 540.63 679.87ZM540.81 689.32A345 345 0 0 1 538.88 690.28L535.11 682.66A336.5 336.5 0 0 0 536.99 681.72ZM529.43 694.77A345 345 0 0 1 526.57 696.06L523.11 688.3A336.5 336.5 0 0 0 525.9 687.04ZM512.95 701.79A345 345 0 0 1 510.52 702.75L507.45 694.82A336.5 336.5 0 0 0 509.83 693.89ZM496.63 707.78A345 345 0 0 1 491.85 709.36L489.25 701.27A336.5 336.5 0 0 0 493.91 699.73ZM482.04 712.36A345 345 0 0 1 481.79 712.43L479.43 704.27A336.5 336.5 0 0 0 479.68 704.2ZM464.4 716.97A345 345 0 0 1 461.54 717.63L459.67 709.34A336.5 336.5 0 0 0 462.47 708.7ZM447.7 720.44A345 345 0 0 1 444.93 720.93L443.48 712.55A336.5 336.5 0 0 0 446.18 712.07ZM428.19 723.41A345 345 0 0 1 425.92 723.68L424.94 715.24A336.5 336.5 0 0 0 427.15 714.97ZM409.84 725.18A345 345 0 0 1 406.45 725.39L405.94 716.91A336.5 336.5 0 0 0 409.25 716.7ZM339.31 722.83A345 345 0 0 1 336.23 722.39L337.45 713.98A336.5 336.5 0 0 0 340.46 714.4ZM314.19 718.44A345 345 0 0 1 310.64 717.67L312.5 709.37A336.5 336.5 0 0 0 315.96 710.13ZM307.42 716.93A345 345 0 0 1 306.6 716.74L308.55 708.47A336.5 336.5 0 0 0 309.35 708.65ZM306.53 716.72A345 345 0 0 1 304.07 716.13L306.09 707.87A336.5 336.5 0 0 0 308.49 708.45ZM262.67 703.2A345 345 0 0 1 260.61 702.41L263.7 694.49A336.5 336.5 0 0 0 265.71 695.26ZM247.4 696.94A345 345 0 0 1 244.91 695.83L248.39 688.07A336.5 336.5 0 0 0 250.82 689.15ZM214.35 680.27A345 345 0 0 1 212.21 679.03L216.49 671.69A336.5 336.5 0 0 0 218.58 672.89ZM202.32 673.04A345 345 0 0 1 200.78 672.07L205.35 664.9A336.5 336.5 0 0 0 206.85 665.84ZM198.54 670.63A345 345 0 0 1 196.26 669.14L200.93 662.04A336.5 336.5 0 0 0 203.16 663.49ZM148.29 631.04A345 345 0 0 1 147.02 629.83L152.91 623.7A336.5 336.5 0 0 0 154.15 624.88ZM126.81 608.69A345 345 0 0 1 124.69 606.26L131.13 600.71A336.5 336.5 0 0 0 133.19 603.08ZM121.19 602.13A345 345 0 0 1 119.46 600.05L126.03 594.65A336.5 336.5 0 0 0 127.71 596.68ZM111.26 589.67A345 345 0 0 1 109.17 586.89L115.99 581.82A336.5 336.5 0 0 0 118.03 584.53ZM82.42 544.9A345 345 0 0 1 81 542.24L88.51 538.27A336.5 336.5 0 0 0 89.9 540.86ZM74.47 529.24A345 345 0 0 1 73.52 527.23L81.22 523.62A336.5 336.5 0 0 0 82.15 525.59ZM49 454.89A345 345 0 0 1 48.45 452.32L56.77 450.57A336.5 336.5 0 0 0 57.31 453.07ZM41.29 395.17A345 345 0 0 1 41.14 390.91L49.64 390.67A336.5 336.5 0 0 0 49.78 394.82ZM41.07 387.83A345 345 0 0 1 41.02 384.76L49.52 384.66A336.5 336.5 0 0 0 49.57 387.67ZM41 382.53A345 345 0 0 1 41.01 378.47L49.51 378.53A336.5 336.5 0 0 0 49.5 382.49ZM51.62 296.05A345 345 0 0 1 52.47 292.78L60.69 294.95A336.5 336.5 0 0 0 59.86 298.14ZM58.32 273.08A345 345 0 0 1 59.43 269.75L67.48 272.49A336.5 336.5 0 0 0 66.39 275.73ZM67.42 248.58A345 345 0 0 1 69.34 244.07L77.14 247.45A336.5 336.5 0 0 0 75.27 251.84ZM69.52 243.65A345 345 0 0 1 70.26 241.95L78.04 245.38A336.5 336.5 0 0 0 77.32 247.03ZM71.88 238.33A345 345 0 0 1 72.93 236.04L80.65 239.61A336.5 336.5 0 0 0 79.62 241.84ZM90.51 202.92A345 345 0 0 1 92.68 199.37L99.91 203.85A336.5 336.5 0 0 0 97.79 207.31ZM94.32 196.74A345 345 0 0 1 96.32 193.63L103.45 198.24A336.5 336.5 0 0 0 101.51 201.28ZM140.43 138.68A345 345 0 0 1 142.33 136.77L148.33 142.78A336.5 336.5 0 0 0 146.48 144.65ZM143.68 135.43A345 345 0 0 1 146.39 132.78L152.29 138.9A336.5 336.5 0 0 0 149.65 141.48ZM155.82 124.02A345 345 0 0 1 157.82 122.24L163.44 128.61A336.5 336.5 0 0 0 161.49 130.35ZM161.82 118.76A345 345 0 0 1 164.41 116.57L169.87 123.08A336.5 336.5 0 0 0 167.34 125.23ZM187.21 99.03A345 345 0 0 1 189.72 97.27L194.56 104.26A336.5 336.5 0 0 0 192.1 105.98ZM264.04 58.28A345 345 0 0 1 266.49 57.36L269.43 65.34A336.5 336.5 0 0 0 267.04 66.23ZM295.8 48A345 345 0 0 1 298.83 47.19L300.98 55.42A336.5 336.5 0 0 0 298.02 56.2ZM305.43 45.54A345 345 0 0 1 310.39 44.39L312.26 52.68A336.5 336.5 0 0 0 307.41 53.81ZM324.16 41.59A345 345 0 0 1 325.64 41.32L327.13 49.69A336.5 336.5 0 0 0 325.69 49.95Z" fill="#8a8a8a"/>
<path d="M92.53 562.38A345 345 0 0 1 90.68 559.35L97.95 554.96A336.5 336.5 0 0 0 99.76 557.91ZM58.42 489.25A345 345 0 0 1 57.53 486.51L65.62 483.91A336.5 336.5 0 0 0 66.49 486.58ZM42.64 414.58A345 345 0 0 1 42.35 411.45L50.81 410.7A336.5 336.5 0 0 0 51.1 413.75ZM174.59 108.36A345 345 0 0 1 176.67 106.77L181.82 113.52A336.5 336.5 0 0 0 179.8 115.08ZM205.94 86.71A345 345 0 0 1 208.46 85.19L212.83 92.48A336.5 336.5 0 0 0 210.38 93.97Z" fill="#647fa4"/>
<path d="M431.42 39A345 345 0 0 1 441.25 40.45L439.89 48.84A336.5 336.5 0 0 0 430.3 47.43ZM452.38 42.45A345 345 0 0 1 455.58 43.09L453.87 51.42A336.5 336.5 0 0 0 450.74 50.79ZM504.94 57.15A345 345 0 0 1 508.01 58.29L505 66.24A336.5 336.5 0 0 0 502.01 65.13ZM509.84 58.99A345 345 0 0 1 512.82 60.16L509.7 68.06A336.5 336.5 0 0 0 506.79 66.93ZM522.37 64.1A345 345 0 0 1 528.11 66.63L524.61 74.37A336.5 336.5 0 0 0 519.01 71.9ZM575.13 92.46A345 345 0 0 1 577.91 94.3L573.18 101.36A336.5 336.5 0 0 0 570.47 99.57ZM579.04 95.07A345 345 0 0 1 582.44 97.39L577.6 104.38A336.5 336.5 0 0 0 574.29 102.11ZM589.74 102.58A345 345 0 0 1 594.09 105.82L588.96 112.6A336.5 336.5 0 0 0 584.72 109.44ZM620.86 128.29A345 345 0 0 1 623.44 130.7L617.59 136.87A336.5 336.5 0 0 0 615.08 134.51ZM624.34 131.56A345 345 0 0 1 626.5 133.65L620.58 139.74A336.5 336.5 0 0 0 618.47 137.71ZM653.13 162.67A345 345 0 0 1 655.72 165.88L649.07 171.18A336.5 336.5 0 0 0 646.55 168.05ZM660.06 171.44A345 345 0 0 1 661.99 173.99L655.19 179.09A336.5 336.5 0 0 0 653.31 176.6ZM676.1 194.28A345 345 0 0 1 678.73 198.42L671.51 202.92A336.5 336.5 0 0 0 668.96 198.88ZM712.11 268.41A345 345 0 0 1 713.39 272.19L705.32 274.87A336.5 336.5 0 0 0 704.08 271.19ZM715.74 279.53A345 345 0 0 1 717.04 283.85L708.88 286.25A336.5 336.5 0 0 0 707.62 282.03ZM726.71 326.74A345 345 0 0 1 727.5 331.98L719.09 333.18A336.5 336.5 0 0 0 718.31 328.08ZM729.36 347.35A345 345 0 0 1 729.78 351.97L721.31 352.69A336.5 336.5 0 0 0 720.9 348.18ZM730.75 394.09A345 345 0 0 1 730.5 399.58L722.01 399.12A336.5 336.5 0 0 0 722.26 393.77ZM730.01 407.14A345 345 0 0 1 729.77 410.07L721.3 409.36A336.5 336.5 0 0 0 721.53 406.5ZM729.41 414.11A345 345 0 0 1 729.23 415.87L720.78 415.01A336.5 336.5 0 0 0 720.95 413.29ZM728.27 424.31A345 345 0 0 1 727.78 428L719.36 426.84A336.5 336.5 0 0 0 719.84 423.24ZM723.84 450.9A345 345 0 0 1 723.18 454.04L714.87 452.24A336.5 336.5 0 0 0 715.52 449.18ZM723 454.87A345 345 0 0 1 722.39 457.61L714.1 455.72A336.5 336.5 0 0 0 714.7 453.05ZM712.83 491.5A345 345 0 0 1 710.78 497.36L702.78 494.5A336.5 336.5 0 0 0 704.77 488.78ZM709.46 500.99A345 345 0 0 1 708.4 503.8L700.46 500.78A336.5 336.5 0 0 0 701.49 498.03ZM708.01 504.84A345 345 0 0 1 706.8 507.94L698.89 504.82A336.5 336.5 0 0 0 700.07 501.79ZM705.43 511.34A345 345 0 0 1 703.88 515.08L696.05 511.78A336.5 336.5 0 0 0 697.56 508.13ZM702.36 518.63A345 345 0 0 1 701.49 520.6L693.72 517.16A336.5 336.5 0 0 0 694.57 515.24ZM693.26 537.89A345 345 0 0 1 690.67 542.88L683.16 538.89A336.5 336.5 0 0 0 685.69 534.03ZM667.42 580.57A345 345 0 0 1 665.28 583.55L658.4 578.56A336.5 336.5 0 0 0 660.48 575.66ZM664.86 584.13A345 345 0 0 1 663.27 586.29L656.44 581.23A336.5 336.5 0 0 0 657.99 579.13ZM660.76 589.64A345 345 0 0 1 658.13 593.06L651.43 587.83A336.5 336.5 0 0 0 654 584.5ZM648.6 604.76A345 345 0 0 1 645.86 607.93L639.46 602.33A336.5 336.5 0 0 0 642.13 599.25ZM645.39 608.47A345 345 0 0 1 643.27 610.86L636.93 605.2A336.5 336.5 0 0 0 639 602.86ZM637.53 617.13A345 345 0 0 1 634.1 620.73L627.99 614.82A336.5 336.5 0 0 0 631.33 611.31ZM604.55 647.95A345 345 0 0 1 601.24 650.62L595.94 643.98A336.5 336.5 0 0 0 599.16 641.37ZM599.86 651.72A345 345 0 0 1 597.6 653.49L592.39 646.78A336.5 336.5 0 0 0 594.59 645.05ZM567.22 674.57A345 345 0 0 1 562.25 677.58L557.9 670.28A336.5 336.5 0 0 0 562.76 667.34ZM506.55 704.25A345 345 0 0 1 502.68 705.67L499.81 697.67A336.5 336.5 0 0 0 503.58 696.29ZM468.34 716.03A345 345 0 0 1 465.55 716.7L463.59 708.43A336.5 336.5 0 0 0 466.31 707.77ZM460.07 717.96A345 345 0 0 1 455.98 718.83L454.25 710.51A336.5 336.5 0 0 0 458.24 709.65ZM443.9 721.11A345 345 0 0 1 440.29 721.7L438.95 713.31A336.5 336.5 0 0 0 442.48 712.73ZM402.73 725.59A345 345 0 0 1 399 725.75L398.68 717.26A336.5 336.5 0 0 0 402.31 717.1ZM397.44 725.81A345 345 0 0 1 394.04 725.91L393.84 717.41A336.5 336.5 0 0 0 397.15 717.32ZM349.03 724.01A345 345 0 0 1 345.42 723.61L346.42 715.16A336.5 336.5 0 0 0 349.94 715.56ZM285.13 710.92A345 345 0 0 1 279.99 709.31L282.6 701.22A336.5 336.5 0 0 0 287.61 702.79ZM277.95 708.64A345 345 0 0 1 274.2 707.38L276.96 699.34A336.5 336.5 0 0 0 280.62 700.57ZM267.23 704.91A345 345 0 0 1 263.64 703.57L266.65 695.62A336.5 336.5 0 0 0 270.16 696.93ZM252.84 699.27A345 345 0 0 1 249.19 697.71L252.56 689.91A336.5 336.5 0 0 0 256.12 691.42ZM217.46 682.03A345 345 0 0 1 214.97 680.62L219.18 673.24A336.5 336.5 0 0 0 221.61 674.61ZM209.19 677.25A345 345 0 0 1 205.24 674.86L209.7 667.62A336.5 336.5 0 0 0 213.55 669.95ZM187.03 662.84A345 345 0 0 1 182.54 659.62L187.55 652.76A336.5 336.5 0 0 0 191.93 655.9ZM181.13 658.58A345 345 0 0 1 178.78 656.84L183.89 650.04A336.5 336.5 0 0 0 186.17 651.74ZM176.5 655.11A345 345 0 0 1 173.98 653.16L179.21 646.46A336.5 336.5 0 0 0 181.66 648.36ZM173.57 652.84A345 345 0 0 1 169.75 649.82L175.08 643.19A336.5 336.5 0 0 0 178.81 646.15ZM146.09 628.92A345 345 0 0 1 143.67 626.56L149.64 620.51A336.5 336.5 0 0 0 152 622.82ZM143.07 625.97A345 345 0 0 1 140.7 623.6L146.75 617.62A336.5 336.5 0 0 0 149.06 619.94ZM135.46 618.18A345 345 0 0 1 131.85 614.31L138.11 608.56A336.5 336.5 0 0 0 141.63 612.33ZM117.59 597.75A345 345 0 0 1 115.01 594.52L121.69 589.26A336.5 336.5 0 0 0 124.2 592.41ZM114.1 593.35A345 345 0 0 1 112.67 591.52L119.41 586.33A336.5 336.5 0 0 0 120.8 588.12ZM76.47 533.37A345 345 0 0 1 75.24 530.84L82.89 527.14A336.5 336.5 0 0 0 84.1 529.61ZM72.72 525.5A345 345 0 0 1 71.44 522.7L79.19 519.21A336.5 336.5 0 0 0 80.44 521.94ZM69.93 519.29A345 345 0 0 1 67.69 514.05L75.53 510.77A336.5 336.5 0 0 0 77.72 515.88ZM67.11 512.65A345 345 0 0 1 65.87 509.62L73.76 506.45A336.5 336.5 0 0 0 74.96 509.41ZM64.26 505.54A345 345 0 0 1 63.53 503.64L71.48 500.62A336.5 336.5 0 0 0 72.19 502.47ZM63.02 502.29A345 345 0 0 1 62.27 500.27L70.25 497.33A336.5 336.5 0 0 0 70.98 499.3ZM54.38 476.16A345 345 0 0 1 52.86 470.67L61.06 468.46A336.5 336.5 0 0 0 62.55 473.82ZM52.1 467.82A345 345 0 0 1 51.18 464.2L59.43 462.15A336.5 336.5 0 0 0 60.33 465.68ZM50.61 461.85A345 345 0 0 1 50.05 459.49L58.32 457.55A336.5 336.5 0 0 0 58.87 459.85ZM46.3 441.26A345 345 0 0 1 45.82 438.49L54.2 437.07A336.5 336.5 0 0 0 54.67 439.78ZM45.68 437.65A345 345 0 0 1 45.17 434.48L53.57 433.16A336.5 336.5 0 0 0 54.07 436.25ZM49.07 306.8A345 345 0 0 1 50.45 300.8L58.72 302.78A336.5 336.5 0 0 0 57.37 308.63ZM86.43 209.87A345 345 0 0 1 88.99 205.47L96.31 209.8A336.5 336.5 0 0 0 93.82 214.09ZM99.14 189.33A345 345 0 0 1 101.07 186.48L108.09 191.27A336.5 336.5 0 0 0 106.21 194.05ZM181.69 103A345 345 0 0 1 185.71 100.09L190.65 107.01A336.5 336.5 0 0 0 186.72 109.85ZM253.41 62.5A345 345 0 0 1 256.07 61.4L259.27 69.28A336.5 336.5 0 0 0 256.67 70.34ZM257.4 60.86A345 345 0 0 1 261.11 59.4L264.19 67.32A336.5 336.5 0 0 0 260.57 68.75ZM284.81 51.17A345 345 0 0 1 290.2 49.57L292.56 57.73A336.5 336.5 0 0 0 287.31 59.3ZM291.21 49.28A345 345 0 0 1 294.73 48.29L296.98 56.49A336.5 336.5 0 0 0 293.54 57.45ZM313.2 43.77A345 345 0 0 1 318.19 42.73L319.86 51.06A336.5 336.5 0 0 0 315 52.08ZM326.8 41.12A345 345 0 0 1 330.02 40.57L331.4 48.96A336.5 336.5 0 0 0 328.26 49.49Z" fill="#000"/>
<path d="M465.28 45.23A345 345 0 0 1 468.85 46.1L466.81 54.35A336.5 336.5 0 0 0 463.32 53.5ZM598.21 108.99A345 345 0 0 1 600.68 110.93L595.39 117.58A336.5 336.5 0 0 0 592.98 115.69ZM698.83 235.52A345 345 0 0 1 700.14 238.37L692.4 241.88A336.5 336.5 0 0 0 691.12 239.1ZM728.54 339.91A345 345 0 0 1 728.9 343.03L720.46 343.96A336.5 336.5 0 0 0 720.11 340.93ZM719.73 468.47A345 345 0 0 1 718.92 471.5L710.72 469.27A336.5 336.5 0 0 0 711.51 466.31ZM662.65 587.13A345 345 0 0 1 660.76 589.64L654 584.5A336.5 336.5 0 0 0 655.83 582.05ZM578.24 667.48A345 345 0 0 1 575.63 669.21L570.95 662.11A336.5 336.5 0 0 0 573.5 660.42ZM487.68 710.68A345 345 0 0 1 484.68 711.59L482.25 703.44A336.5 336.5 0 0 0 485.17 702.55ZM385.29 726A345 345 0 0 1 382.17 725.98L382.27 717.48A336.5 336.5 0 0 0 385.3 717.5ZM294.56 713.66A345 345 0 0 1 291.56 712.82L293.89 704.65A336.5 336.5 0 0 0 296.82 705.47ZM200.98 672.19A345 345 0 0 1 198.35 670.5L202.97 663.37A336.5 336.5 0 0 0 205.53 665.01ZM137.62 620.44A345 345 0 0 1 135.48 618.2L141.65 612.36A336.5 336.5 0 0 0 143.74 614.54ZM88.86 556.31A345 345 0 0 1 87.27 553.59L94.63 549.34A336.5 336.5 0 0 0 96.18 551.99ZM56.14 482.07A345 345 0 0 1 55.23 479.06L63.38 476.64A336.5 336.5 0 0 0 64.26 479.58ZM41.96 406.78A345 345 0 0 1 41.74 403.64L50.23 403.08A336.5 336.5 0 0 0 50.44 406.14ZM46.11 321.86A345 345 0 0 1 46.67 318.73L55.03 320.27A336.5 336.5 0 0 0 54.48 323.32ZM60.64 266.25A345 345 0 0 1 61.71 263.26L69.7 266.16A336.5 336.5 0 0 0 68.66 269.08ZM83.14 215.76A345 345 0 0 1 84.68 212.98L92.1 217.12A336.5 336.5 0 0 0 90.61 219.83ZM118.69 162.9A345 345 0 0 1 120.7 160.45L127.24 165.88A336.5 336.5 0 0 0 125.27 168.27ZM149.8 129.54A345 345 0 0 1 152.09 127.4L157.86 133.65A336.5 336.5 0 0 0 155.62 135.73ZM178.44 105.42A345 345 0 0 1 180.95 103.55L186 110.38A336.5 336.5 0 0 0 183.55 112.21ZM210.9 83.74A345 345 0 0 1 213.61 82.16L217.86 89.52A336.5 336.5 0 0 0 215.21 91.06ZM273.72 54.78A345 345 0 0 1 276.69 53.77L279.38 61.84A336.5 336.5 0 0 0 276.49 62.82Z" fill="#d92f27"/>
</g>
<path d="M386 36A345 345 0 0 1 465.28 45.23L466.69 47.21L468.85 46.1A345 345 0 0 1 542.92 73.75L539.05 81.32A336.5 336.5 0 0 0 466.81 54.35L465.44 52.37L463.32 53.5A336.5 336.5 0 0 0 386 44.5ZM548.26 76.54A345 345 0 0 1 598.21 108.99L598.46 111.21L600.68 110.93A345 345 0 0 1 666.7 180.43L659.79 185.37A336.5 336.5 0 0 0 595.39 117.58L595.18 115.37L592.98 115.69A336.5 336.5 0 0 0 544.26 84.04ZM670.16 185.36A345 345 0 0 1 698.83 235.52L698.03 237.61L700.14 238.37A345 345 0 0 1 722.08 303.07L713.8 304.99A336.5 336.5 0 0 0 692.4 241.88L693.21 239.82L691.12 239.1A336.5 336.5 0 0 0 663.16 190.18ZM723.39 308.94A345 345 0 0 1 728.54 339.91L727.14 341.65L728.9 343.03A345 345 0 0 1 727.04 433.14L718.63 431.86A336.5 336.5 0 0 0 720.46 343.96L721.87 342.26L720.11 340.93A336.5 336.5 0 0 0 715.08 310.72ZM726.07 439.09A345 345 0 0 1 719.73 468.47L717.78 469.57L718.92 471.5A345 345 0 0 1 686.78 549.99L679.37 545.82A336.5 336.5 0 0 0 710.72 469.27L712.66 468.2L711.51 466.31A336.5 336.5 0 0 0 717.7 437.66ZM683.78 555.21A345 345 0 0 1 662.65 587.13L660.43 587.42L660.76 589.64A345 345 0 0 1 612.79 640.98L607.2 634.58A336.5 336.5 0 0 0 654 584.5L656.2 584.24L655.83 582.05A336.5 336.5 0 0 0 676.45 550.92ZM608.22 644.9A345 345 0 0 1 578.24 667.48L576.05 667.02L575.63 669.21A345 345 0 0 1 519.86 698.97L516.56 691.14A336.5 336.5 0 0 0 570.95 662.11L573.12 662.6L573.5 660.42A336.5 336.5 0 0 0 602.74 638.4ZM514.29 701.26A345 345 0 0 1 487.68 710.68L485.71 709.6L484.68 711.59A345 345 0 0 1 421.7 724.15L420.82 715.69A336.5 336.5 0 0 0 482.25 703.44L484.17 704.53L485.17 702.55A336.5 336.5 0 0 0 511.13 693.37ZM415.7 724.72A345 345 0 0 1 385.29 726L383.74 724.39L382.17 725.98A345 345 0 0 1 324.26 720.43L325.78 712.07A336.5 336.5 0 0 0 382.27 717.48L383.78 719.09L385.3 717.5A336.5 336.5 0 0 0 414.97 716.25ZM318.39 719.31A345 345 0 0 1 294.56 713.66L293.49 711.71L291.56 712.82A345 345 0 0 1 235.26 691.32L238.97 683.68A336.5 336.5 0 0 0 293.89 704.65L294.92 706.6L296.82 705.47A336.5 336.5 0 0 0 320.05 710.97ZM229.89 688.66A345 345 0 0 1 200.98 672.19L200.53 670L198.35 670.5A345 345 0 0 1 157.54 639.52L163.17 633.15A336.5 336.5 0 0 0 202.97 663.37L203.39 665.54L205.53 665.01A336.5 336.5 0 0 0 233.74 681.08ZM153.09 635.51A345 345 0 0 1 137.62 620.44L137.7 618.22L135.48 618.2A345 345 0 0 1 97.27 569.84L104.38 565.19A336.5 336.5 0 0 0 141.65 612.36L141.53 614.55L143.74 614.54A336.5 336.5 0 0 0 158.83 629.24ZM94.06 564.84A345 345 0 0 1 88.86 556.31L89.45 554.15L87.27 553.59A345 345 0 0 1 61.17 497.25L69.18 494.38A336.5 336.5 0 0 0 94.63 549.34L94.02 551.47L96.18 551.99A336.5 336.5 0 0 0 101.25 560.31ZM59.19 491.55A345 345 0 0 1 56.14 482.07L57.21 480.1L55.23 479.06A345 345 0 0 1 43.58 423.12L52.02 422.08A336.5 336.5 0 0 0 63.38 476.64L62.28 478.57L64.26 479.58A336.5 336.5 0 0 0 67.24 488.82ZM42.9 417.12A345 345 0 0 1 41.96 406.78L43.45 405.1L41.74 403.64A345 345 0 0 1 42.39 350.07L50.86 350.83A336.5 336.5 0 0 0 50.23 403.08L48.73 404.73L50.44 406.14A336.5 336.5 0 0 0 51.35 416.23ZM42.98 344.06A345 345 0 0 1 46.11 321.86L47.96 320.58L46.67 318.73A345 345 0 0 1 54.43 285.67L62.6 288.02A336.5 336.5 0 0 0 55.03 320.27L53.17 321.51L54.48 323.32A336.5 336.5 0 0 0 51.43 344.97ZM56.17 279.82A345 345 0 0 1 60.64 266.25L62.68 265.29L61.71 263.26A345 345 0 0 1 75.86 229.88L83.5 233.61A336.5 336.5 0 0 0 69.7 266.16L67.67 267.08L68.66 269.08A336.5 336.5 0 0 0 64.3 282.32ZM78.58 224.43A345 345 0 0 1 83.14 215.76L85.31 215.14L84.68 212.98A345 345 0 0 1 105.34 180.37L112.25 185.31A336.5 336.5 0 0 0 92.1 217.12L89.95 217.7L90.61 219.83A336.5 336.5 0 0 0 86.15 228.28ZM108.92 175.45A345 345 0 0 1 118.69 162.9L120.93 162.69L120.7 160.45A345 345 0 0 1 133.88 145.5L140.09 151.3A336.5 336.5 0 0 0 127.24 165.88L125.02 166.06L125.27 168.27A336.5 336.5 0 0 0 115.74 180.51ZM138.07 141.09A345 345 0 0 1 149.8 129.54L152.03 129.64L152.09 127.4A345 345 0 0 1 168.45 113.24L173.81 119.84A336.5 336.5 0 0 0 157.86 133.65L155.64 133.52L155.62 135.73A336.5 336.5 0 0 0 144.18 147ZM173.15 109.48A345 345 0 0 1 178.44 105.42L180.65 105.76L180.95 103.55A345 345 0 0 1 198.74 91.24L203.36 98.38A336.5 336.5 0 0 0 186 110.38L183.82 110.01L183.55 112.21A336.5 336.5 0 0 0 178.4 116.17ZM203.83 88.02A345 345 0 0 1 210.9 83.74L213.06 84.33L213.61 82.16A345 345 0 0 1 233.12 71.72L236.88 79.34A336.5 336.5 0 0 0 217.86 89.52L215.73 88.91L215.21 91.06A336.5 336.5 0 0 0 208.32 95.24ZM238.54 69.1A345 345 0 0 1 273.72 54.78L275.72 55.79L276.69 53.77A345 345 0 0 1 335.32 39.74L336.57 48.15A336.5 336.5 0 0 0 279.38 61.84L277.42 60.81L276.49 62.82A336.5 336.5 0 0 0 242.17 76.79ZM342.48 38.76A345 345 0 0 1 379.98 36.05L380.13 44.55A336.5 336.5 0 0 0 343.55 47.19Z" fill="none" stroke="#000" stroke-width="1.35" stroke-linejoin="round"/>
</g>
<g id="ticks" stroke="#000" stroke-width="1.1" fill="none">
<path d="M386 28A353 353 0 0 1 546.56 66.63M386 28L386 23.5M398.04 28.21L398.11 26.01M410.06 28.82L410.21 26.63M422.05 29.85L422.27 27.66M434 31.28L434.3 29.1M445.9 33.12L446.66 28.68M457.72 35.36L458.17 33.21M469.46 38.01L469.98 35.87M481.11 41.05L481.7 38.94M492.64 44.49L493.31 42.4M504.05 48.33L505.56 44.08M515.33 52.54L516.13 50.5M526.45 57.14L527.33 55.13M537.41 62.12L538.35 60.13M552.02 69.48A353 353 0 0 1 673.21 175.78M552.02 69.48L554.14 65.51M562.55 75.32L563.65 73.41M572.86 81.52L574.03 79.65M582.97 88.06L584.19 86.24M592.84 94.95L594.13 93.16M602.47 102.17L605.23 98.61M611.85 109.71L613.26 108.02M620.97 117.57L622.44 115.92M629.82 125.73L631.34 124.14M638.38 134.19L639.95 132.65M646.64 142.94L649.97 139.9M654.61 151.96L656.28 150.54M662.26 161.25L663.98 159.88M669.59 170.8L671.36 169.49M676.75 180.82A353 353 0 0 1 729.88 301.26M676.75 180.82L680.46 178.27M683.41 190.85L685.26 189.66M689.72 201.1L691.61 199.98M695.67 211.56L697.6 210.5M701.27 222.21L703.24 221.22M706.5 233.06L710.59 231.17M711.36 244.07L713.39 243.22M715.84 255.24L717.89 254.46M719.93 266.56L722.02 265.85M723.64 278.01L725.75 277.37M726.96 289.58L731.3 288.42M729.88 301.26L732.02 300.76M731.22 307.27A353 353 0 0 1 734.94 434.35M731.22 307.27L735.62 306.33M733.53 319.09L735.69 318.7M735.44 330.97L737.61 330.66M736.94 342.91L739.13 342.68M738.03 354.9L740.23 354.74M738.72 366.92L743.22 366.74M738.99 378.95L741.19 378.94M738.86 390.99L741.06 391.05M738.31 403.01L740.51 403.15M737.36 415.01L739.55 415.22M735.99 426.97L740.46 427.56M733.96 440.43A353 353 0 0 1 693.75 553.91M733.96 440.43L738.4 441.19M731.73 452.26L733.89 452.71M729.1 464.01L731.24 464.53M726.07 475.66L728.19 476.25M722.65 487.2L724.74 487.86M718.83 498.61L723.07 500.11M714.63 509.89L716.68 510.7M710.04 521.02L712.06 521.89M705.08 531.99L707.07 532.93M699.75 542.78L701.7 543.79M694.05 553.38L697.98 555.58M690.69 559.25A353 353 0 0 1 618.05 647.01M690.69 559.25L694.57 561.52M684.44 569.54L686.29 570.71M677.83 579.6L679.65 580.84M670.89 589.43L672.67 590.73M663.62 599.03L665.35 600.39M656.03 608.36L659.47 611.26M648.12 617.44L649.75 618.91M639.9 626.24L641.49 627.77M631.4 634.75L632.92 636.33M622.6 642.97L624.08 644.6M613.37 651.02A353 353 0 0 1 522.96 706.35M613.37 651.02L616.27 654.46M604.03 658.61L605.39 660.35M594.44 665.89L595.74 667.66M584.61 672.83L585.85 674.65M574.54 679.43L575.72 681.29M564.26 685.68L566.53 689.57M553.77 691.58L554.81 693.52M543.08 697.12L544.06 699.09M532.21 702.3L533.12 704.3M517.26 708.69A353 353 0 0 1 422.52 732.11M517.26 708.69L518.94 712.86M506.02 712.97L506.76 715.04M494.63 716.87L495.3 718.96M483.11 720.38L483.72 722.49M471.49 723.49L472.02 725.63M459.76 726.21L460.7 730.61M447.95 728.52L448.33 730.69M436.06 730.43L436.37 732.61M424.12 731.94L424.36 734.12M416.39 732.69A353 353 0 0 1 322.82 728.3M416.39 732.69L416.78 737.17M404.38 733.52L404.5 735.72M392.35 733.94L392.39 736.14M380.36 733.95L380.32 736.15M368.42 733.56L368.31 735.76M356.5 732.77L356.12 737.25M344.61 731.57L344.36 733.75M332.77 729.96L332.44 732.14M316.82 727.15A353 353 0 0 1 231.76 698.52M316.82 727.15L315.94 731.57M305.14 724.62L304.64 726.76M293.56 721.68L292.99 723.81M282.09 718.36L281.44 720.46M270.73 714.65L270.01 716.73M259.5 710.55L257.89 714.76M248.4 706.08L247.54 708.1M237.46 701.23L236.54 703.22M226.28 695.8A353 353 0 0 1 152.24 645.51M226.28 695.8L224.24 699.81M215.7 690.2L214.64 692.13M205.32 684.25L204.19 686.14M195.14 677.96L193.96 679.81M185.19 671.32L183.94 673.13M175.47 664.35L172.78 667.96M165.99 657.05L164.61 658.77M156.76 649.43L155.33 651.11M147.69 641.42A353 353 0 0 1 90.58 574.22M147.69 641.42L144.65 644.73M139 633.19L137.46 634.76M130.65 624.73L129.05 626.25M122.59 616L120.95 617.46M114.84 607.01L113.15 608.41M107.39 597.76L103.83 600.52M100.25 588.26L98.47 589.55M93.44 578.53L91.62 579.76M87.29 569.1A353 353 0 0 1 53.64 499.94M87.29 569.1L83.48 571.5M81.12 558.93L79.22 560.04M75.22 548.4L73.28 549.45M69.68 537.68L67.71 538.66M64.51 526.78L62.5 527.69M59.71 515.71L55.55 517.42M55.3 504.48L53.24 505.25M51.61 494.11A353 353 0 0 1 35.64 424.1M51.61 494.11L47.35 495.55M47.94 482.61L45.83 483.25M44.67 471L42.54 471.56M41.79 459.28L39.64 459.77M39.31 447.47L37.15 447.89M37.25 435.58L32.8 436.28M34.94 417.96A353 353 0 0 1 34.42 349.35M34.94 417.96L30.47 418.43M33.88 405.94L31.69 406.1M33.24 393.89L31.04 393.97M33 381.83L30.8 381.83M33.18 369.76L30.98 369.69M33.77 357.71L29.28 357.41M35.03 343.21A353 353 0 0 1 46.74 283.46M35.03 343.21L30.55 342.73M36.53 331.23L34.35 330.92M38.44 319.29L36.27 318.9M40.77 307.33L38.62 306.87M43.52 295.46L41.39 294.92M46.68 283.68L42.35 282.44M48.52 277.48A353 353 0 0 1 68.67 226.38M48.52 277.48L44.22 276.16M52.3 265.89L50.22 265.17M56.47 254.44L54.41 253.65M61.03 243.14L59.01 242.28M65.99 232L63.99 231.07M71.45 220.8A353 353 0 0 1 98.83 175.71M71.45 220.8L67.44 218.75M77.16 210.03L75.24 208.97M83.24 199.49L81.36 198.36M89.67 189.17L87.83 187.97M96.45 179.08L94.65 177.82M102.49 170.68A353 353 0 0 1 128.04 140.04M102.49 170.68L98.88 168M109.9 161.05L108.18 159.68M117.64 151.67L115.97 150.24M125.7 142.56L124.07 141.08M132.32 135.53A353 353 0 0 1 163.4 107.03M132.32 135.53L129.09 132.4M140.88 126.98L139.35 125.4M149.68 118.77L148.21 117.14M158.76 110.87L157.35 109.18M168.22 103.19A353 353 0 0 1 194.4 84.52M168.22 103.19L165.44 99.65M177.81 95.93L176.52 94.15M187.65 88.99L186.42 87.17M199.6 81.22A353 353 0 0 1 229.57 64.55M199.6 81.22L197.23 77.4M209.93 75.04L208.83 73.14M220.47 69.22L219.43 67.28M235.12 61.87A353 353 0 0 1 334.14 31.83M235.12 61.87L233.19 57.8M246.09 56.91L245.21 54.89M257.22 52.33L256.41 50.28M268.5 48.13L267.76 46.06M279.91 44.32L279.25 42.22M291.45 40.9L290.25 36.56M303.1 37.87L302.59 35.73M314.85 35.24L314.41 33.09M326.68 33.02L326.31 30.85M341.47 30.82A353 353 0 0 1 379.84 28.05M341.47 30.82L340.9 26.36M353.06 29.54L352.85 27.35M364.69 28.64L364.56 26.45M376.34 28.13L376.28 25.93"/>
</g>
<g id="ticklabels" font-family="'Liberation Sans',sans-serif" font-size="7.2" fill="#1a1a1a" text-anchor="middle">
<text transform="translate(392.77 20.46) rotate(1.08)" y="2.59">0MB</text>
<text transform="translate(447.19 25.63) rotate(9.77)" y="2.59">90MB</text>
<text transform="translate(506.6 41.16) rotate(19.54)" y="2.59">180MB</text>
<text transform="translate(561.54 66.01) rotate(29.13)" y="2.59">0MB</text>
<text transform="translate(607.13 96.16) rotate(37.82)" y="2.59">90MB</text>
<text transform="translate(652.26 137.81) rotate(47.59)" y="2.59">180MB</text>
<text transform="translate(686.8 182.12) rotate(56.53)" y="2.59">0MB</text>
<text transform="translate(713.4 229.87) rotate(65.22)" y="2.59">90MB</text>
<text transform="translate(734.3 287.61) rotate(74.99)" y="2.59">180MB</text>
<text transform="translate(740 312.32) rotate(79.02)" y="2.59">0MB</text>
<text transform="translate(746.31 366.61) rotate(87.71)" y="2.59">90MB</text>
<text transform="translate(748.49 425.39) rotate(-83.02)" y="2.59">180MB</text>
<text transform="translate(744.77 449.24) rotate(-79.23)" y="2.59">0MB</text>
<text transform="translate(730.33 502.68) rotate(-70.54)" y="2.59">90MB</text>
<text transform="translate(709.59 550.29) rotate(-62.38)" y="2.59">180MB</text>
<text transform="translate(697.7 571.3) rotate(-58.6)" y="2.59">0MB</text>
<text transform="translate(665.36 616.22) rotate(-49.9)" y="2.59">90MB</text>
<text transform="translate(615.94 664.72) rotate(-39.02)" y="2.59">0MB</text>
<text transform="translate(570.42 696.21) rotate(-30.33)" y="2.59">90MB</text>
<text transform="translate(515.41 722.5) rotate(-20.75)" y="2.59">0MB</text>
<text transform="translate(462.31 738.14) rotate(-12.06)" y="2.59">90MB</text>
<text transform="translate(410.6 745.37) rotate(-3.86)" y="2.59">0MB</text>
<text transform="translate(355.48 744.92) rotate(4.79)" y="2.59">90MB</text>
<text transform="translate(307.76 737.72) rotate(12.37)" y="2.59">0MB</text>
<text transform="translate(255.13 721.94) rotate(21)" y="2.59">90MB</text>
<text transform="translate(214.7 703.53) rotate(27.97)" y="2.59">0MB</text>
<text transform="translate(168.19 674.14) rotate(36.61)" y="2.59">90MB</text>
<text transform="translate(134.46 645.77) rotate(43.53)" y="2.59">0MB</text>
<text transform="translate(97.76 605.25) rotate(52.12)" y="2.59">90MB</text>
<text transform="translate(73.42 569.84) rotate(58.86)" y="2.59">0MB</text>
<text transform="translate(48.44 520.36) rotate(67.57)" y="2.59">90MB</text>
<text transform="translate(37.91 491.49) rotate(72.39)" y="2.59">0MB</text>
<text transform="translate(25.19 437.47) rotate(81.1)" y="2.59">90MB</text>
<text transform="translate(22.15 412.39) rotate(85.07)" y="2.59">0MB</text>
<text transform="translate(26.17 357.44) rotate(273.75)" y="2.59">90MB</text>
<text transform="translate(28.26 335.65) rotate(277.22)" y="2.59">0MB</text>
<text transform="translate(37.09 289.92) rotate(284.63)" y="2.59">90MB</text>
<text transform="translate(43.33 268.71) rotate(288.14)" y="2.59">0MB</text>
<text transform="translate(67.84 211.27) rotate(298.08)" y="2.59">0MB</text>
<text transform="translate(100.52 160.7) rotate(307.66)" y="2.59">0MB</text>
<text transform="translate(131.66 125.38) rotate(315.14)" y="2.59">0MB</text>
<text transform="translate(168.9 93.08) rotate(322.98)" y="2.59">0MB</text>
<text transform="translate(201.37 71.25) rotate(329.2)" y="2.59">0MB</text>
<text transform="translate(238.02 52.16) rotate(335.77)" y="2.59">0MB</text>
<text transform="translate(289.42 33.57) rotate(344.46)" y="2.59">90MB</text>
<text transform="translate(347.23 22.49) rotate(353.83)" y="2.59">0MB</text>
</g>
<g id="chrlabels" font-family="'Liberation Sans',sans-serif" font-size="15.5" fill="#111" stroke="#111" stroke-width="0.25" text-anchor="middle">
<text transform="translate(473.48 17.38) rotate(13.53)" y="5.58">1</text>
<text transform="translate(632.61 99.83) rotate(41.25)" y="5.58">2</text>
<text transform="translate(728.19 230.07) rotate(66.2)" y="5.58">3</text>
<text transform="translate(759.84 370.03) rotate(88.32)" y="5.58">4</text>
<text transform="translate(743.24 507.58) rotate(-70.49)" y="5.58">5</text>
<text transform="translate(677.96 622.66) rotate(-50.39)" y="5.58">6</text>
<text transform="translate(583.83 704.27) rotate(-31.46)" y="5.58">7</text>
<text transform="translate(476.95 748.93) rotate(-13.88)" y="5.58">8</text>
<text transform="translate(368.12 759.58) rotate(2.7)" y="5.58">9</text>
<text transform="translate(265.11 740.2) rotate(18.6)" y="5.58">10</text>
<text transform="translate(173.05 694.52) rotate(34.19)" y="5.58">11</text>
<text transform="translate(97.18 626.4) rotate(49.65)" y="5.58">12</text>
<text transform="translate(45.24 546.9) rotate(64.04)" y="5.58">13</text>
<text transform="translate(16.49 465.29) rotate(77.15)" y="5.58">14</text>
<text transform="translate(7.01 383.87) rotate(89.57)" y="5.58">15</text>
<text transform="translate(18.97 309.15) rotate(281.08)" y="5.58">16</text>
<text transform="translate(38.06 243.83) rotate(291.52)" y="5.58">17</text>
<text transform="translate(66.36 186.82) rotate(301.28)" y="5.58">18</text>
<text transform="translate(98.7 141.55) rotate(309.81)" y="5.58">19</text>
<text transform="translate(133.27 105.32) rotate(317.49)" y="5.58">20</text>
<text transform="translate(168.91 76.46) rotate(324.52)" y="5.58">21</text>
<text transform="translate(204.17 54.17) rotate(330.91)" y="5.58">22</text>
<text transform="translate(277.43 23.11) rotate(343.12)" y="5.58">X</text>
<text transform="translate(359.11 7.97) rotate(355.88)" y="5.58">Y</text>
</g>
<g id="genelinks" stroke="#111" stroke-width="1.15" fill="none">
<path d="M283.92 67.92L286.34 75.34L297.62 79.9L299.87 87.58M277.72 70.01L280.28 77.38L280.75 85.38L283.43 92.91M250.34 80.94L253.55 88.05L263.75 91.99L266.86 99.36M250.34 80.94L253.55 88.05L245.84 100.24L249.42 107.4M201.07 108.53L205.45 114.98L209.78 121.35L214.27 127.97M167.25 134.85L172.43 140.68L177.55 146.44L182.86 152.42M558.06 100.23L553.99 106.88L549.96 113.44L545.78 120.27M80.41 258.31L87.65 261.22L94.79 264.09L102.22 267.07M69.46 290.23L76.96 292.38L84.36 294.5L92.05 296.71M56.72 377.52L64.52 377.6L72.22 377.68L80.22 377.77M151.17 611.86L156.74 606.39L162.23 600.99L167.93 595.38M575.4 650.38L570.92 644L566.49 637.7L561.89 631.15M611.26 621.2L605.92 615.51L600.66 609.89L595.19 604.06M662.96 559.14L656.4 554.92L649.92 550.75L643.19 546.43"/>
</g>
<g id="genes" font-family="'Liberation Sans',sans-serif" font-size="15.1">
<text transform="translate(300.38 89.31) rotate(433.64)" y="5.44" text-anchor="start" fill="#17196a" stroke="#17196a" stroke-width="0.3">AR</text>
<text transform="translate(284.03 94.61) rotate(430.4)" y="5.44" text-anchor="start" fill="#17196a" stroke="#17196a" stroke-width="0.3">KLF8</text>
<text transform="translate(267.57 101.02) rotate(427.07)" y="5.44" text-anchor="start" fill="#17196a" stroke="#17196a" stroke-width="0.3">FAM9B</text>
<text transform="translate(250.22 109.01) rotate(423.47)" y="5.44" text-anchor="start" fill="#17196a" stroke="#17196a" stroke-width="0.3">FAM9A</text>
<text transform="translate(215.28 129.46) rotate(415.84)" y="5.44" text-anchor="start" fill="#17196a" stroke="#17196a" stroke-width="0.3">RUNX1</text>
<text transform="translate(184.06 153.77) rotate(408.37)" y="5.44" text-anchor="start" fill="#17196a" stroke="#17196a" stroke-width="0.3">TOP1</text>
<text transform="translate(544.84 121.8) rotate(-58.5)" y="5.44" text-anchor="end" fill="#17196a" stroke="#17196a" stroke-width="0.3">SRD5A2</text>
<text transform="translate(103.89 267.74) rotate(381.87)" y="5.44" text-anchor="start" fill="#7a68c6" stroke="#7a68c6" stroke-width="0.3">CRHR1</text>
<text transform="translate(93.78 297.2) rotate(376)" y="5.44" text-anchor="start" fill="#2fd3e6" stroke="#2fd3e6" stroke-width="0.3">MC1R</text>
<text transform="translate(82.02 377.79) rotate(360.61)" y="5.44" text-anchor="start" fill="#23805c" stroke="#23805c" stroke-width="0.3">RORA</text>
<text transform="translate(169.22 594.12) rotate(315.49)" y="5.44" text-anchor="start" fill="#dd9a48" stroke="#dd9a48" stroke-width="0.3">PTHLH</text>
<text transform="translate(560.85 629.68) rotate(54.89)" y="5.44" text-anchor="end" fill="#44546a" stroke="#44546a" stroke-width="0.3">IGFBP3</text>
<text transform="translate(593.95 602.75) rotate(46.84)" y="5.44" text-anchor="end" fill="#5b9bd5" stroke="#5b9bd5" stroke-width="0.3">ESR1</text>
<text transform="translate(641.68 545.45) rotate(32.75)" y="5.44" text-anchor="end" fill="#7a4a52" stroke="#7a4a52" stroke-width="0.3">PRL</text>
</g>
<g id="pathways" font-family="'Liberation Sans',sans-serif" font-size="14.4">
<path id="pw0" d="M346.69 179.65A203.5 203.5 0 0 1 473.71 193.67" fill="none"/>
<text fill="#161b5e" stroke="#161b5e" stroke-width="0.25" textLength="129.99" lengthAdjust="spacingAndGlyphs"><textPath href="#pw0" textLength="129.99" lengthAdjust="spacingAndGlyphs">Androgen signaling</textPath></text>
<path id="pw1" d="M510.49 214.56A204 204 0 0 1 568.12 281.93" fill="none"/>
<text fill="#6a3c48" stroke="#6a3c48" stroke-width="0.25" textLength="89.37" lengthAdjust="spacingAndGlyphs"><textPath href="#pw1" textLength="89.37" lengthAdjust="spacingAndGlyphs">PRL-signaling</textPath></text>
<path id="pw2" d="M590.5 342.72A205.5 205.5 0 0 1 574.55 463.9" fill="none"/>
<text fill="#4f93d2" stroke="#4f93d2" stroke-width="0.25" textLength="124.1" lengthAdjust="spacingAndGlyphs"><textPath href="#pw2" textLength="124.1" lengthAdjust="spacingAndGlyphs">Estrogen signaling</textPath></text>
<path id="pw3" d="M556.54 496.15A206 206 0 0 1 348.69 579.92" fill="none"/>
<text fill="#959bb2" stroke="#959bb2" stroke-width="0.25" textLength="236.94" lengthAdjust="spacingAndGlyphs"><textPath href="#pw3" textLength="236.94" lengthAdjust="spacingAndGlyphs">Insulin-like growth factor signaling</textPath></text>
<path id="pw4" d="M311.39 567.31A204.5 204.5 0 0 1 236.03 514.54" fill="none"/>
<text fill="#dc8c3e" stroke="#dc8c3e" stroke-width="0.25" textLength="92.8" lengthAdjust="spacingAndGlyphs"><textPath href="#pw4" textLength="92.8" lengthAdjust="spacingAndGlyphs">PTH-signaling</textPath></text>
<path id="pw5" d="M216.25 482.12A201 201 0 0 1 191.47 419.83" fill="none"/>
<text fill="#129a48" stroke="#129a48" stroke-width="0.25" textLength="67.36" lengthAdjust="spacingAndGlyphs"><textPath href="#pw5" textLength="67.36" lengthAdjust="spacingAndGlyphs">Melatonin</textPath></text>
<path id="pw6" d="M188.06 362.67A200.5 200.5 0 0 1 218.9 269.97" fill="none"/>
<text fill="#22d0e4" stroke="#22d0e4" stroke-width="0.25" textLength="98.68" lengthAdjust="spacingAndGlyphs"><textPath href="#pw6" textLength="98.68" lengthAdjust="spacingAndGlyphs">Melanocortins</textPath></text>
<path id="pw7" d="M236.48 244.12A202 202 0 0 1 319.57 187.64" fill="none"/>
<text fill="#4f479e" stroke="#4f479e" stroke-width="0.25" textLength="101.54" lengthAdjust="spacingAndGlyphs"><textPath href="#pw7" textLength="101.54" lengthAdjust="spacingAndGlyphs">CRHR-signaling</textPath></text>
</g>
<g id="triangles">
<defs>
<linearGradient id="tg0" x1="0" y1="0" x2="1" y2="0"><stop offset="0" stop-color="#2aa85e"/><stop offset="0.55" stop-color="#18a050"/><stop offset="1" stop-color="#148643"/></linearGradient>
<linearGradient id="tg1" x1="0" y1="0" x2="1" y2="0"><stop offset="0" stop-color="#6164b6"/><stop offset="0.55" stop-color="#5356b0"/><stop offset="1" stop-color="#464894"/></linearGradient>
<linearGradient id="tg2" x1="0" y1="0" x2="1" y2="0"><stop offset="0" stop-color="#89b8e7"/><stop offset="0.55" stop-color="#7fb2e5"/><stop offset="1" stop-color="#6b96c0"/></linearGradient>
<linearGradient id="tg3" x1="0" y1="0" x2="1" y2="0"><stop offset="0" stop-color="#adadb4"/><stop offset="0.55" stop-color="#a6a6ae"/><stop offset="1" stop-color="#8b8b92"/></linearGradient>
<linearGradient id="tg4" x1="0" y1="0" x2="1" y2="0"><stop offset="0" stop-color="#23a85e"/><stop offset="0.55" stop-color="#10a050"/><stop offset="1" stop-color="#0d8643"/></linearGradient>
<linearGradient id="tg5" x1="0" y1="0" x2="1" y2="0"><stop offset="0" stop-color="#45e2ea"/><stop offset="0.55" stop-color="#35e0e8"/><stop offset="1" stop-color="#2dbcc3"/></linearGradient>
<linearGradient id="tg6" x1="0" y1="0" x2="1" y2="0"><stop offset="0" stop-color="#998ae2"/><stop offset="0.55" stop-color="#9080e0"/><stop offset="1" stop-color="#796cbc"/></linearGradient>
<linearGradient id="tg7" x1="0" y1="0" x2="1" y2="0"><stop offset="0" stop-color="#adadb6"/><stop offset="0.55" stop-color="#a6a6b0"/><stop offset="1" stop-color="#8b8b94"/></linearGradient>
<linearGradient id="tg8" x1="0" y1="0" x2="0" y2="1"><stop offset="0" stop-color="#9f818a"/><stop offset="0.6" stop-color="#977680"/><stop offset="1" stop-color="#80646d"/></linearGradient>
<linearGradient id="tg9" x1="0" y1="0" x2="0" y2="1"><stop offset="0" stop-color="#9b8cec"/><stop offset="0.6" stop-color="#9282ea"/><stop offset="1" stop-color="#7c6ec7"/></linearGradient>
<linearGradient id="tg10" x1="0" y1="0" x2="0" y2="1"><stop offset="0" stop-color="#f0c1af"/><stop offset="0.6" stop-color="#efbca8"/><stop offset="1" stop-color="#cba08f"/></linearGradient>
<linearGradient id="tg11" x1="0" y1="0" x2="0" y2="1"><stop offset="0" stop-color="#6164b6"/><stop offset="0.6" stop-color="#5356b0"/><stop offset="1" stop-color="#474996"/></linearGradient>
<linearGradient id="tg12" x1="0" y1="0" x2="0" y2="1"><stop offset="0" stop-color="#8fbeea"/><stop offset="0.6" stop-color="#85b8e8"/><stop offset="1" stop-color="#719cc5"/></linearGradient>
<linearGradient id="tg13" x1="0" y1="0" x2="0" y2="1"><stop offset="0" stop-color="#1ea85e"/><stop offset="0.6" stop-color="#0aa050"/><stop offset="1" stop-color="#088844"/></linearGradient>
<linearGradient id="tg14" x1="0" y1="0" x2="0" y2="1"><stop offset="0" stop-color="#a2868e"/><stop offset="0.6" stop-color="#9a7c84"/><stop offset="1" stop-color="#836970"/></linearGradient>
<linearGradient id="tg15" x1="0" y1="0" x2="0" y2="1"><stop offset="0" stop-color="#afafb6"/><stop offset="0.6" stop-color="#a8a8b0"/><stop offset="1" stop-color="#8f8f96"/></linearGradient>
</defs>
<polygon points="361.5,198 374.2,198 370.9,239.1" fill="url(#tg0)" stroke="#fff" stroke-opacity="0.8" stroke-width="1.2" paint-order="stroke"/>
<polygon points="375.9,197.6 388,197.6 383,239.1" fill="url(#tg1)" stroke="#fff" stroke-opacity="0.8" stroke-width="1.2" paint-order="stroke"/>
<polygon points="389.5,197.6 401.9,197.6 394.5,239.1" fill="url(#tg2)" stroke="#fff" stroke-opacity="0.8" stroke-width="1.2" paint-order="stroke"/>
<polygon points="403.5,198 416,198 407.1,239.1" fill="url(#tg3)" stroke="#fff" stroke-opacity="0.8" stroke-width="1.2" paint-order="stroke"/>
<polygon points="365.2,510.4 355.9,551.9 368.4,552.3" fill="url(#tg4)" stroke="#fff" stroke-opacity="0.8" stroke-width="1.2" paint-order="stroke"/>
<polygon points="379.4,511.7 371.7,552.8 384.1,553.2" fill="url(#tg5)" stroke="#fff" stroke-opacity="0.8" stroke-width="1.2" paint-order="stroke"/>
<polygon points="393.2,511.1 388.5,552.2 401,551.8" fill="url(#tg6)" stroke="#fff" stroke-opacity="0.8" stroke-width="1.2" paint-order="stroke"/>
<polygon points="407.5,510.7 404.1,552.2 416.9,551.2" fill="url(#tg7)" stroke="#fff" stroke-opacity="0.8" stroke-width="1.2" paint-order="stroke"/>
<polygon points="220,370 220,382.8 261.6,376" fill="url(#tg8)" stroke="#fff" stroke-opacity="0.8" stroke-width="1.2" paint-order="stroke"/>
<polygon points="525.2,336.3 564.3,320.2 566.8,332.6" fill="url(#tg9)" stroke="#fff" stroke-opacity="0.8" stroke-width="1.2" paint-order="stroke"/>
<polygon points="527.7,347.7 568,335.8 569.7,349.1" fill="url(#tg10)" stroke="#fff" stroke-opacity="0.8" stroke-width="1.2" paint-order="stroke"/>
<polygon points="527.7,361 569,353.8 570.6,366.4" fill="url(#tg11)" stroke="#fff" stroke-opacity="0.8" stroke-width="1.2" paint-order="stroke"/>
<polygon points="530.3,375.4 569.7,369.1 569.7,381.7" fill="url(#tg12)" stroke="#fff" stroke-opacity="0.8" stroke-width="1.2" paint-order="stroke"/>
<polygon points="527.7,388.2 569.7,385.1 569,397.8" fill="url(#tg13)" stroke="#fff" stroke-opacity="0.8" stroke-width="1.2" paint-order="stroke"/>
<polygon points="526,401.7 569,400 566.8,413.1" fill="url(#tg14)" stroke="#fff" stroke-opacity="0.8" stroke-width="1.2" paint-order="stroke"/>
<polygon points="525.5,414 566.8,417.4 563.9,429.8" fill="url(#tg15)" stroke="#fff" stroke-opacity="0.8" stroke-width="1.2" paint-order="stroke"/>
</g>
<g id="ctext" font-family="'Liberation Sans',sans-serif" font-size="14.4" fill="#000">
<text x="394.2" y="261.2" text-anchor="middle" textLength="137.5" lengthAdjust="spacingAndGlyphs">Androgen sensitivity</text>
<text x="393.7" y="280" text-anchor="middle" textLength="41" lengthAdjust="spacingAndGlyphs">of HFs</text>
<text x="272.7" y="372.6" text-anchor="start" textLength="56" lengthAdjust="spacingAndGlyphs">Hair loss</text>
<text x="272.7" y="392" text-anchor="start" textLength="49" lengthAdjust="spacingAndGlyphs">pattern</text>
<text x="516.2" y="353.3" text-anchor="end" textLength="50" lengthAdjust="spacingAndGlyphs">Anagen</text>
<text x="516.2" y="372.8" text-anchor="end" textLength="78" lengthAdjust="spacingAndGlyphs">shortening/</text>
<text x="516.2" y="392.5" text-anchor="end" textLength="70.7" lengthAdjust="spacingAndGlyphs">premature</text>
<text x="516.2" y="412.6" text-anchor="end" textLength="52.4" lengthAdjust="spacingAndGlyphs">catagen</text>
<text x="386" y="476.6" text-anchor="middle" textLength="123" lengthAdjust="spacingAndGlyphs">HF miniaturization</text>
<text x="386" y="496.1" text-anchor="middle" textLength="121.8" lengthAdjust="spacingAndGlyphs">&amp; depigmentation</text>
</g>
<g id="face">
<defs>
<linearGradient id="neckg" x1="0" y1="0" x2="0" y2="1"><stop offset="0" stop-color="#f1c39c"/><stop offset="0.45" stop-color="#fbd9ba"/><stop offset="1" stop-color="#fbd9ba"/></linearGradient>
<radialGradient id="headg" cx="0.5" cy="0.25" r="0.6"><stop offset="0" stop-color="#fde7d2"/><stop offset="0.5" stop-color="#fcdcbf"/><stop offset="1" stop-color="#fad6b6"/></radialGradient>
</defs>
<!-- neck -->
<path d="M380.6 398 L398 398 L398 411 C398.6 414 401.5 416 405.2 416.8 L372.2 416.8 C376 416 380 414 380.6 411 Z" fill="url(#neckg)"/>
<!-- ears -->
<ellipse cx="355.8" cy="368.6" rx="5.6" ry="12" fill="#fbd9ba"/>
<ellipse cx="423.6" cy="368.6" rx="5.6" ry="12" fill="#fbd9ba"/>
<ellipse cx="356.4" cy="368.2" rx="2.4" ry="4.6" fill="#efc29e"/>
<ellipse cx="422.8" cy="368.2" rx="2.4" ry="4.6" fill="#efc29e"/>
<!-- head -->
<path d="M389.6 316.8 C384.7 316.8 379.2 317.5 375.0 319.6 C370.8 321.7 367.1 325.6 364.6 329.5 C362.1 333.4 361.0 338.8 360.1 343.0 C359.2 347.2 359.3 350.5 359.3 355.0 C359.3 359.5 359.4 365.3 360.0 370.1 C360.6 374.9 361.5 379.6 363.0 383.6 C364.5 387.6 366.7 391.1 369.2 394.1 C371.7 397.1 374.8 399.9 378.2 401.6 C381.6 403.3 385.8 404.3 389.6 404.3 C393.4 404.3 397.6 403.3 401.0 401.6 C404.4 399.9 407.5 397.1 410.0 394.1 C412.5 391.1 414.7 387.6 416.2 383.6 C417.7 379.6 418.6 374.9 419.2 370.1 C419.8 365.3 419.9 359.5 419.9 355.0 C419.9 350.5 420.0 347.2 419.1 343.0 C418.2 338.8 417.1 333.4 414.6 329.5 C412.1 325.6 408.4 321.7 404.2 319.6 C400.0 317.5 394.5 316.8 389.6 316.8 Z" fill="url(#headg)"/>
<!-- hair patches -->
<path d="M362.6 326.4 C356.6 331 354.2 341.5 355.2 352 C355.5 355.6 357.4 357.2 358.8 355.2 C359.4 347.5 361.8 341 365 335.6 C366.2 332 365 328 362.6 326.4 Z" fill="#6d4a48"/>
<path d="M415.2 326.4 C421.2 331 423.6 341.5 422.6 352.5 C422.3 356.2 420.4 357.8 419 355.8 C418.4 347.5 416 341 412.8 335.6 C411.6 332 412.8 328 415.2 326.4 Z" fill="#6d4a48"/>
<!-- cheeks -->
<circle cx="372.4" cy="373.8" r="6" fill="#f7c9b6" opacity="0.85"/>
<circle cx="406.4" cy="373.6" r="6" fill="#f7c9b6" opacity="0.85"/>
<!-- eye sockets (light) -->
<circle cx="374" cy="357.2" r="7.8" fill="#fde6d2"/>
<circle cx="403" cy="357.2" r="7.8" fill="#fde6d2"/>
<!-- eyes -->
<circle cx="373.6" cy="355.9" r="6.7" fill="#5e403c"/>
<circle cx="402.8" cy="355.9" r="6.7" fill="#5e403c"/>
<circle cx="377.6" cy="352.2" r="1.7" fill="#fff"/>
<circle cx="406.4" cy="352.6" r="1.7" fill="#fff"/>
<!-- eyebrows -->
<path d="M365 347.6 C368 341 378 338.8 384.4 343.2" fill="none" stroke="#6d4a48" stroke-width="4.4" stroke-linecap="round"/>
<path d="M394 343.6 C399.6 338.2 409 339.4 412 347.2" fill="none" stroke="#6d4a48" stroke-width="4.4" stroke-linecap="round"/>
<!-- nose -->
<path d="M383.6 368.6 C386 371.8 391.4 371.8 394 368.4" fill="none" stroke="#eeb082" stroke-width="1.5" stroke-linecap="round"/>
<!-- mouth -->
<path d="M380.6 381.6 C383.4 383.2 394.4 383.2 397.2 381.6 C397.6 387.4 394 391.8 388.9 391.8 C383.8 391.8 380.2 387.4 380.6 381.6 Z" fill="#fff" stroke="#f6d2b2" stroke-width="1.6"/>
<!-- chin dimple -->
<path d="M385.2 396.6 C386.8 393.6 390.6 393.6 392.4 396.6" fill="none" stroke="#e2a574" stroke-width="1.1" stroke-linecap="round"/>
</g>

</svg></body></html>
